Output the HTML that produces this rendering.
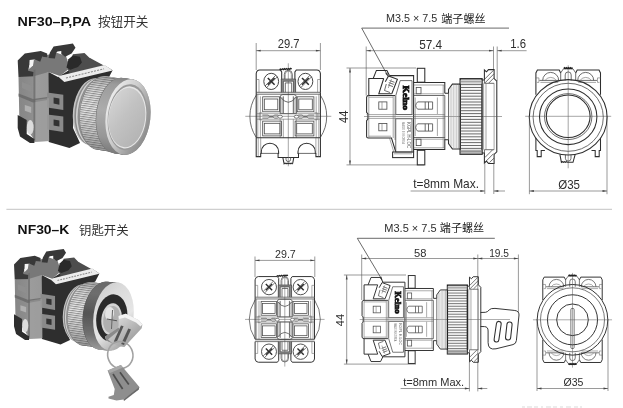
<!DOCTYPE html>
<html lang="zh"><head><meta charset="utf-8"><title>NF30</title>
<style>html,body{margin:0;padding:0;background:#fff;}body{width:623px;height:408px;overflow:hidden;}svg{display:block;will-change:transform;}</style>
</head><body>
<svg width="623" height="408" viewBox="0 0 623 408" font-family="'Liberation Sans', 'Noto Sans CJK SC', sans-serif">
<rect width="623" height="408" fill="#fff"/>
<defs>
<filter id="bl" x="-5%" y="-5%" width="110%" height="110%"><feGaussianBlur stdDeviation="0.7"/></filter>
<filter id="bl2" x="-5%" y="-5%" width="110%" height="110%"><feGaussianBlur stdDeviation="1.2"/></filter>
<linearGradient id="cyl" x1="0" y1="0" x2="0" y2="1">
<stop offset="0" stop-color="#9a9a9a"/><stop offset="0.12" stop-color="#d8d8d8"/><stop offset="0.35" stop-color="#f2f2f2"/><stop offset="0.6" stop-color="#cfcfcf"/><stop offset="0.85" stop-color="#9a9a9a"/><stop offset="1" stop-color="#6e6e6e"/></linearGradient>
<linearGradient id="knl" x1="0" y1="0" x2="0" y2="1">
<stop offset="0" stop-color="#a8a8a8"/><stop offset="0.15" stop-color="#d6d6d6"/><stop offset="0.45" stop-color="#e8e8e8"/><stop offset="0.75" stop-color="#cccccc"/><stop offset="1" stop-color="#999"/></linearGradient>
<linearGradient id="face" x1="0" y1="0" x2="1" y2="1">
<stop offset="0" stop-color="#d8d8d8"/><stop offset="0.45" stop-color="#c2c2c2"/><stop offset="1" stop-color="#b0b0b0"/></linearGradient>
<linearGradient id="rim" x1="0" y1="0.15" x2="1" y2="0.7">
<stop offset="0" stop-color="#f2f2f2"/><stop offset="0.45" stop-color="#cdcdcd"/><stop offset="0.8" stop-color="#9c9c9c"/><stop offset="1" stop-color="#8c8c8c"/></linearGradient>
<linearGradient id="grayblk" x1="0" y1="0" x2="1" y2="0">
<stop offset="0" stop-color="#868686"/><stop offset="0.45" stop-color="#8e8e8e"/><stop offset="0.55" stop-color="#9c9c9c"/><stop offset="1" stop-color="#989898"/></linearGradient>
<linearGradient id="keyg" x1="0" y1="0" x2="1" y2="1">
<stop offset="0" stop-color="#efefef"/><stop offset="0.5" stop-color="#bdbdbd"/><stop offset="1" stop-color="#8a8a8a"/></linearGradient>
<linearGradient id="cylside" x1="0" y1="0" x2="0" y2="1">
<stop offset="0" stop-color="#858585"/><stop offset="0.1" stop-color="#9c9c9c"/><stop offset="0.45" stop-color="#acacac"/><stop offset="0.8" stop-color="#969696"/><stop offset="1" stop-color="#7a7a7a"/></linearGradient>
<linearGradient id="cylside2" x1="0" y1="0" x2="0" y2="1">
<stop offset="0" stop-color="#6a6a6a"/><stop offset="0.2" stop-color="#6e6e6e"/><stop offset="0.5" stop-color="#545454"/><stop offset="0.8" stop-color="#707070"/><stop offset="1" stop-color="#9a9a9a"/></linearGradient>
<linearGradient id="rim2" x1="0" y1="0" x2="0.6" y2="1">
<stop offset="0" stop-color="#c8c8c8"/><stop offset="0.3" stop-color="#dadada"/><stop offset="0.7" stop-color="#e6e6e6"/><stop offset="1" stop-color="#b0b0b0"/></linearGradient>
<pattern id="knp" width="6" height="2.2" patternUnits="userSpaceOnUse" patternTransform="rotate(8)"><rect width="6" height="1" fill="#4a4a4a" opacity="0.55"/></pattern>
</defs>
<g filter="url(#bl)">
<polygon points="19.0,77.0 28.0,70.0 33.0,60.0 47.0,55.0 56.0,52.5 66.0,56.0 70.0,68.0 60.0,76.0 48.5,72.0 40.0,80.0 25.0,82.0" fill="#787878"/>
<polygon points="48.5,72.0 58.0,77.0 70.0,69.5 84.0,66.0 90.0,60.0 112.6,70.2 108.0,79.0 92.0,86.0 80.0,98.0 74.0,112.0 73.0,128.0 80.0,143.0 69.4,148.0 48.8,142.0 40.0,100.0" fill="#2e2e2e"/>
<polygon points="68.0,69.0 73.0,56.0 90.0,58.0 112.6,70.2 104.5,65.2 70.0,73.5" fill="#4c4c4c"/>
<polygon points="17.7,60.5 24.8,53.5 40.8,50.9 47.2,53.5 47.2,57.3 42.1,56.7 40.2,61.8 34.4,59.3 29.3,65.7 28.0,70.8 33.7,72.1 33.1,76.5 18.5,77.0" fill="#383838"/>
<polygon points="49.8,52.8 53.6,46.4 72.9,43.6 75.5,47.7 71.6,53.5 65.2,56.7 61.3,54.1 61.3,51.0 57.5,51.5 56.2,52.8 54.9,58.6 48.5,58.0" fill="#383838"/>
<polygon points="72.9,54.3 84.5,52.9 91.7,60.1 112.6,70.2 104.5,65.4 70.0,73.5 68.0,69.0" fill="#4e4e4e"/>
<polygon points="66.5,67.6 68.4,59.3 72.9,55.4 80.0,56.7 81.9,62.5 78.0,67.0 70.3,69.8" fill="#2a2a2a"/>
<polygon points="29.6,60.0 34.0,59.6 33.0,65.5 29.2,69.0" fill="#f4f4f4"/>
<polygon points="18.5,77.0 33.0,76.5 48.5,72.0 49.2,141.0 34.4,142.0 33.4,138.6 19.3,118.0" fill="url(#grayblk)"/>
<polygon points="18.5,93.5 33.0,99.0 47.5,97.0 47.5,100.0 33.0,102.5 18.5,96.5" fill="#646464" opacity="0.75"/>
<polygon points="33.4,70.0 35.4,69.4 35.4,141.0 33.4,139.0" fill="#6a6a6a" opacity="0.75"/>
<polygon points="24.8,105.0 31.2,107.0 31.2,113.0 24.8,110.8" fill="#b0b0b0"/>
<polygon points="22.0,82.0 31.0,85.5 31.0,92.0 22.0,88.0" fill="#8f8f8f"/>
<polygon points="17.7,115.0 26.7,120.0 26.7,134.0 34.4,139.0 34.4,143.0 30.0,143.0 20.0,136.5 17.7,128.0" fill="#2e2e2e"/>
<ellipse cx="30.2" cy="127.3" rx="3.4" ry="7.2" fill="#dcdcdc"/>
<polygon points="47.2,92.6 63.3,94.8 63.3,110.1 47.2,107.6" fill="#8a8a8a"/>
<polygon points="53.6,97.6 59.4,98.6 59.4,104.8 53.6,103.6" fill="#303030"/>
<polygon points="47.2,114.4 63.3,116.6 63.3,131.9 47.2,129.4" fill="#8a8a8a"/>
<polygon points="53.6,119.4 59.4,120.4 59.4,126.6 53.6,125.4" fill="#303030"/>
<polygon points="35.4,100.0 49.0,98.0 49.0,141.0 35.4,141.5" fill="#a0a0a0" opacity="0.55"/>
<polygon points="57.8,76.3 104.7,65.0 112.6,70.6 64.3,82.0" fill="#ececec"/>
<line x1="66" y1="78" x2="104" y2="68.8" stroke="#8a8a8a" stroke-width="1.2" stroke-dasharray="2 1.2"/>
<ellipse cx="92.7" cy="111.6" rx="19.7" ry="33.5" fill="#c4c4c4" transform="rotate(6.5 92.7 111.6)" />
<ellipse cx="94.3" cy="111.8" rx="19.7" ry="33.75" fill="#8a8a8a" transform="rotate(6.5 94.3 111.8)" />
<ellipse cx="95.9" cy="112.0" rx="19.7" ry="34.0" fill="#d2d2d2" transform="rotate(6.5 95.9 112.0)" />
<ellipse cx="97.5" cy="112.2" rx="19.7" ry="34.25" fill="#8e8e8e" transform="rotate(6.5 97.5 112.2)" />
<ellipse cx="99.1" cy="112.4" rx="19.7" ry="34.5" fill="#cdcdcd" transform="rotate(6.5 99.1 112.4)" />
<ellipse cx="101.3" cy="112.9" rx="21.8" ry="37" fill="#6f6f6f" transform="rotate(6.5 101.3 112.9)" />
<ellipse cx="101.9" cy="113.0" rx="21.8" ry="37" fill="url(#knl)" transform="rotate(6.5 101.9 113.0)" />
<ellipse cx="102.89" cy="113.16" rx="21.8" ry="37" fill="url(#knl)" transform="rotate(6.5 102.89 113.16)" />
<ellipse cx="103.89" cy="113.31" rx="21.8" ry="37" fill="url(#knl)" transform="rotate(6.5 103.89 113.31)" />
<ellipse cx="104.88" cy="113.47" rx="21.8" ry="37" fill="url(#knl)" transform="rotate(6.5 104.88 113.47)" />
<ellipse cx="105.88" cy="113.62" rx="21.8" ry="37" fill="url(#knl)" transform="rotate(6.5 105.88 113.62)" />
<ellipse cx="106.87" cy="113.78" rx="21.8" ry="37" fill="url(#knl)" transform="rotate(6.5 106.87 113.78)" />
<ellipse cx="107.86" cy="113.94" rx="21.8" ry="37" fill="url(#knl)" transform="rotate(6.5 107.86 113.94)" />
<ellipse cx="108.86" cy="114.09" rx="21.8" ry="37" fill="url(#knl)" transform="rotate(6.5 108.86 114.09)" />
<ellipse cx="109.85" cy="114.25" rx="21.8" ry="37" fill="url(#knl)" transform="rotate(6.5 109.85 114.25)" />
<ellipse cx="110.84" cy="114.41" rx="21.8" ry="37" fill="url(#knl)" transform="rotate(6.5 110.84 114.41)" />
<ellipse cx="111.84" cy="114.56" rx="21.8" ry="37" fill="url(#knl)" transform="rotate(6.5 111.84 114.56)" />
<ellipse cx="112.83" cy="114.72" rx="21.8" ry="37" fill="url(#knl)" transform="rotate(6.5 112.83 114.72)" />
<ellipse cx="113.83" cy="114.88" rx="21.8" ry="37" fill="url(#knl)" transform="rotate(6.5 113.83 114.88)" />
<ellipse cx="114.82" cy="115.03" rx="21.8" ry="37" fill="url(#knl)" transform="rotate(6.5 114.82 115.03)" />
<ellipse cx="115.81" cy="115.19" rx="21.8" ry="37" fill="url(#knl)" transform="rotate(6.5 115.81 115.19)" />
<ellipse cx="116.81" cy="115.34" rx="21.8" ry="37" fill="url(#knl)" transform="rotate(6.5 116.81 115.34)" />
<ellipse cx="117.8" cy="115.5" rx="21.8" ry="37" fill="url(#knl)" transform="rotate(6.5 117.8 115.5)" />
<clipPath id="kc1">
<ellipse cx="101.9" cy="113.0" rx="21.8" ry="37" fill="#000" transform="rotate(6.5 101.9 113.0)" />
<ellipse cx="102.89" cy="113.16" rx="21.8" ry="37" fill="#000" transform="rotate(6.5 102.89 113.16)" />
<ellipse cx="103.89" cy="113.31" rx="21.8" ry="37" fill="#000" transform="rotate(6.5 103.89 113.31)" />
<ellipse cx="104.88" cy="113.47" rx="21.8" ry="37" fill="#000" transform="rotate(6.5 104.88 113.47)" />
<ellipse cx="105.88" cy="113.62" rx="21.8" ry="37" fill="#000" transform="rotate(6.5 105.88 113.62)" />
<ellipse cx="106.87" cy="113.78" rx="21.8" ry="37" fill="#000" transform="rotate(6.5 106.87 113.78)" />
<ellipse cx="107.86" cy="113.94" rx="21.8" ry="37" fill="#000" transform="rotate(6.5 107.86 113.94)" />
<ellipse cx="108.86" cy="114.09" rx="21.8" ry="37" fill="#000" transform="rotate(6.5 108.86 114.09)" />
<ellipse cx="109.85" cy="114.25" rx="21.8" ry="37" fill="#000" transform="rotate(6.5 109.85 114.25)" />
<ellipse cx="110.84" cy="114.41" rx="21.8" ry="37" fill="#000" transform="rotate(6.5 110.84 114.41)" />
<ellipse cx="111.84" cy="114.56" rx="21.8" ry="37" fill="#000" transform="rotate(6.5 111.84 114.56)" />
<ellipse cx="112.83" cy="114.72" rx="21.8" ry="37" fill="#000" transform="rotate(6.5 112.83 114.72)" />
<ellipse cx="113.83" cy="114.88" rx="21.8" ry="37" fill="#000" transform="rotate(6.5 113.83 114.88)" />
<ellipse cx="114.82" cy="115.03" rx="21.8" ry="37" fill="#000" transform="rotate(6.5 114.82 115.03)" />
<ellipse cx="115.81" cy="115.19" rx="21.8" ry="37" fill="#000" transform="rotate(6.5 115.81 115.19)" />
<ellipse cx="116.81" cy="115.34" rx="21.8" ry="37" fill="#000" transform="rotate(6.5 116.81 115.34)" />
<ellipse cx="117.8" cy="115.5" rx="21.8" ry="37" fill="#000" transform="rotate(6.5 117.8 115.5)" />
</clipPath>
<rect x="70" y="70" width="80" height="90" fill="url(#knp)" clip-path="url(#kc1)"/>
<ellipse cx="118.2" cy="115.6" rx="22.3" ry="37.9" fill="#707070" transform="rotate(6.5 118.2 115.6)" />
<ellipse cx="118.8" cy="115.7" rx="22.4" ry="38" fill="url(#cylside)" transform="rotate(6.5 118.8 115.7)" />
<ellipse cx="119.72" cy="115.83" rx="22.4" ry="38" fill="url(#cylside)" transform="rotate(6.5 119.72 115.83)" />
<ellipse cx="120.64" cy="115.96" rx="22.4" ry="38" fill="url(#cylside)" transform="rotate(6.5 120.64 115.96)" />
<ellipse cx="121.56" cy="116.09" rx="22.4" ry="38" fill="url(#cylside)" transform="rotate(6.5 121.56 116.09)" />
<ellipse cx="122.48" cy="116.22" rx="22.4" ry="38" fill="url(#cylside)" transform="rotate(6.5 122.48 116.22)" />
<ellipse cx="123.4" cy="116.35" rx="22.4" ry="38" fill="url(#cylside)" transform="rotate(6.5 123.4 116.35)" />
<ellipse cx="124.32" cy="116.48" rx="22.4" ry="38" fill="url(#cylside)" transform="rotate(6.5 124.32 116.48)" />
<ellipse cx="125.24" cy="116.61" rx="22.4" ry="38" fill="url(#cylside)" transform="rotate(6.5 125.24 116.61)" />
<ellipse cx="126.16" cy="116.74" rx="22.4" ry="38" fill="url(#cylside)" transform="rotate(6.5 126.16 116.74)" />
<ellipse cx="127.08" cy="116.87" rx="22.4" ry="38" fill="url(#cylside)" transform="rotate(6.5 127.08 116.87)" />
<ellipse cx="128.0" cy="117.0" rx="22.4" ry="38" fill="url(#cylside)" transform="rotate(6.5 128.0 117.0)" />
<ellipse cx="128" cy="117" rx="22.4" ry="38" fill="url(#rim)" transform="rotate(6.5 128 117)" />
<ellipse cx="127.6" cy="117.2" rx="19.8" ry="33.2" fill="#9a9a9a" transform="rotate(6.5 127.6 117.2)" />
<ellipse cx="127.3" cy="117.4" rx="18.9" ry="31.2" fill="#e6e6e6" transform="rotate(6.5 127.3 117.4)" />
<ellipse cx="127" cy="117.5" rx="18.2" ry="29.8" fill="url(#face)" transform="rotate(6.5 127 117.5)" />
</g>
<g filter="url(#bl)">
<g transform="translate(14 264.5) scale(0.9 0.915) translate(-17.7 -60.5)">
<polygon points="19.0,77.0 28.0,70.0 33.0,60.0 47.0,55.0 56.0,52.5 66.0,56.0 70.0,68.0 60.0,76.0 48.5,72.0 40.0,80.0 25.0,82.0" fill="#787878"/>
<polygon points="48.5,72.0 58.0,77.0 70.0,69.5 84.0,66.0 90.0,60.0 112.6,70.2 108.0,79.0 92.0,86.0 80.0,98.0 74.0,112.0 73.0,128.0 80.0,143.0 69.4,148.0 48.8,142.0 40.0,100.0" fill="#2e2e2e"/>
<polygon points="68.0,69.0 73.0,56.0 90.0,58.0 112.6,70.2 104.5,65.2 70.0,73.5" fill="#4c4c4c"/>
<polygon points="17.7,60.5 24.8,53.5 40.8,50.9 47.2,53.5 47.2,57.3 42.1,56.7 40.2,61.8 34.4,59.3 29.3,65.7 28.0,70.8 33.7,72.1 33.1,76.5 18.5,77.0" fill="#383838"/>
<polygon points="49.8,52.8 53.6,46.4 72.9,43.6 75.5,47.7 71.6,53.5 65.2,56.7 61.3,54.1 61.3,51.0 57.5,51.5 56.2,52.8 54.9,58.6 48.5,58.0" fill="#383838"/>
<polygon points="72.9,54.3 84.5,52.9 91.7,60.1 112.6,70.2 104.5,65.4 70.0,73.5 68.0,69.0" fill="#4e4e4e"/>
<polygon points="66.5,67.6 68.4,59.3 72.9,55.4 80.0,56.7 81.9,62.5 78.0,67.0 70.3,69.8" fill="#2a2a2a"/>
<polygon points="29.6,60.0 34.0,59.6 33.0,65.5 29.2,69.0" fill="#f4f4f4"/>
<polygon points="18.5,77.0 33.0,76.5 48.5,72.0 49.2,141.0 34.4,142.0 33.4,138.6 19.3,118.0" fill="url(#grayblk)"/>
<polygon points="18.5,93.5 33.0,99.0 47.5,97.0 47.5,100.0 33.0,102.5 18.5,96.5" fill="#646464" opacity="0.75"/>
<polygon points="33.4,70.0 35.4,69.4 35.4,141.0 33.4,139.0" fill="#6a6a6a" opacity="0.75"/>
<polygon points="24.8,105.0 31.2,107.0 31.2,113.0 24.8,110.8" fill="#b0b0b0"/>
<polygon points="22.0,82.0 31.0,85.5 31.0,92.0 22.0,88.0" fill="#8f8f8f"/>
<polygon points="17.7,115.0 26.7,120.0 26.7,134.0 34.4,139.0 34.4,143.0 30.0,143.0 20.0,136.5 17.7,128.0" fill="#2e2e2e"/>
<ellipse cx="30.2" cy="127.3" rx="3.4" ry="7.2" fill="#dcdcdc"/>
<polygon points="47.2,92.6 63.3,94.8 63.3,110.1 47.2,107.6" fill="#8a8a8a"/>
<polygon points="53.6,97.6 59.4,98.6 59.4,104.8 53.6,103.6" fill="#303030"/>
<polygon points="47.2,114.4 63.3,116.6 63.3,131.9 47.2,129.4" fill="#8a8a8a"/>
<polygon points="53.6,119.4 59.4,120.4 59.4,126.6 53.6,125.4" fill="#303030"/>
<polygon points="35.4,100.0 49.0,98.0 49.0,141.0 35.4,141.5" fill="#a0a0a0" opacity="0.55"/>
<polygon points="57.8,76.3 104.7,65.0 112.6,70.6 64.3,82.0" fill="#ececec"/>
<line x1="66" y1="78" x2="104" y2="68.8" stroke="#8a8a8a" stroke-width="1.2" stroke-dasharray="2 1.2"/>
</g>
<ellipse cx="80.5" cy="313.3" rx="17.5" ry="29.0" fill="#c4c4c4" transform="rotate(7.5 80.5 313.3)" />
<ellipse cx="81.6" cy="313.45" rx="17.5" ry="29.25" fill="#8a8a8a" transform="rotate(7.5 81.6 313.45)" />
<ellipse cx="82.7" cy="313.6" rx="17.5" ry="29.5" fill="#d2d2d2" transform="rotate(7.5 82.7 313.6)" />
<ellipse cx="83.8" cy="313.75" rx="17.5" ry="29.75" fill="#8e8e8e" transform="rotate(7.5 83.8 313.75)" />
<ellipse cx="84.9" cy="313.9" rx="17.5" ry="30.0" fill="#cdcdcd" transform="rotate(7.5 84.9 313.9)" />
<ellipse cx="87" cy="313.9" rx="19.5" ry="32" fill="#6f6f6f" transform="rotate(7.5 87 313.9)" />
<ellipse cx="87.5" cy="314.0" rx="19.5" ry="32" fill="url(#knl)" transform="rotate(7.5 87.5 314.0)" />
<ellipse cx="88.54" cy="314.11" rx="19.5" ry="32" fill="url(#knl)" transform="rotate(7.5 88.54 314.11)" />
<ellipse cx="89.57" cy="314.21" rx="19.5" ry="32" fill="url(#knl)" transform="rotate(7.5 89.57 314.21)" />
<ellipse cx="90.61" cy="314.32" rx="19.5" ry="32" fill="url(#knl)" transform="rotate(7.5 90.61 314.32)" />
<ellipse cx="91.64" cy="314.43" rx="19.5" ry="32" fill="url(#knl)" transform="rotate(7.5 91.64 314.43)" />
<ellipse cx="92.68" cy="314.54" rx="19.5" ry="32" fill="url(#knl)" transform="rotate(7.5 92.68 314.54)" />
<ellipse cx="93.71" cy="314.64" rx="19.5" ry="32" fill="url(#knl)" transform="rotate(7.5 93.71 314.64)" />
<ellipse cx="94.75" cy="314.75" rx="19.5" ry="32" fill="url(#knl)" transform="rotate(7.5 94.75 314.75)" />
<ellipse cx="95.79" cy="314.86" rx="19.5" ry="32" fill="url(#knl)" transform="rotate(7.5 95.79 314.86)" />
<ellipse cx="96.82" cy="314.96" rx="19.5" ry="32" fill="url(#knl)" transform="rotate(7.5 96.82 314.96)" />
<ellipse cx="97.86" cy="315.07" rx="19.5" ry="32" fill="url(#knl)" transform="rotate(7.5 97.86 315.07)" />
<ellipse cx="98.89" cy="315.18" rx="19.5" ry="32" fill="url(#knl)" transform="rotate(7.5 98.89 315.18)" />
<ellipse cx="99.93" cy="315.29" rx="19.5" ry="32" fill="url(#knl)" transform="rotate(7.5 99.93 315.29)" />
<ellipse cx="100.96" cy="315.39" rx="19.5" ry="32" fill="url(#knl)" transform="rotate(7.5 100.96 315.39)" />
<ellipse cx="102.0" cy="315.5" rx="19.5" ry="32" fill="url(#knl)" transform="rotate(7.5 102.0 315.5)" />
<clipPath id="kc2">
<ellipse cx="87.5" cy="314.0" rx="19.5" ry="32" fill="#000" transform="rotate(7.5 87.5 314.0)" />
<ellipse cx="88.54" cy="314.11" rx="19.5" ry="32" fill="#000" transform="rotate(7.5 88.54 314.11)" />
<ellipse cx="89.57" cy="314.21" rx="19.5" ry="32" fill="#000" transform="rotate(7.5 89.57 314.21)" />
<ellipse cx="90.61" cy="314.32" rx="19.5" ry="32" fill="#000" transform="rotate(7.5 90.61 314.32)" />
<ellipse cx="91.64" cy="314.43" rx="19.5" ry="32" fill="#000" transform="rotate(7.5 91.64 314.43)" />
<ellipse cx="92.68" cy="314.54" rx="19.5" ry="32" fill="#000" transform="rotate(7.5 92.68 314.54)" />
<ellipse cx="93.71" cy="314.64" rx="19.5" ry="32" fill="#000" transform="rotate(7.5 93.71 314.64)" />
<ellipse cx="94.75" cy="314.75" rx="19.5" ry="32" fill="#000" transform="rotate(7.5 94.75 314.75)" />
<ellipse cx="95.79" cy="314.86" rx="19.5" ry="32" fill="#000" transform="rotate(7.5 95.79 314.86)" />
<ellipse cx="96.82" cy="314.96" rx="19.5" ry="32" fill="#000" transform="rotate(7.5 96.82 314.96)" />
<ellipse cx="97.86" cy="315.07" rx="19.5" ry="32" fill="#000" transform="rotate(7.5 97.86 315.07)" />
<ellipse cx="98.89" cy="315.18" rx="19.5" ry="32" fill="#000" transform="rotate(7.5 98.89 315.18)" />
<ellipse cx="99.93" cy="315.29" rx="19.5" ry="32" fill="#000" transform="rotate(7.5 99.93 315.29)" />
<ellipse cx="100.96" cy="315.39" rx="19.5" ry="32" fill="#000" transform="rotate(7.5 100.96 315.39)" />
<ellipse cx="102.0" cy="315.5" rx="19.5" ry="32" fill="#000" transform="rotate(7.5 102.0 315.5)" />
</clipPath>
<rect x="60" y="275" width="70" height="80" fill="url(#knp)" clip-path="url(#kc2)"/>
<ellipse cx="102.6" cy="315.6" rx="19.9" ry="34" fill="#565656" transform="rotate(7.5 102.6 315.6)" />
<ellipse cx="103.2" cy="315.7" rx="20" ry="34.3" fill="url(#cylside2)" transform="rotate(7.5 103.2 315.7)" />
<ellipse cx="104.24" cy="315.8" rx="20" ry="34.3" fill="url(#cylside2)" transform="rotate(7.5 104.24 315.8)" />
<ellipse cx="105.28" cy="315.9" rx="20" ry="34.3" fill="url(#cylside2)" transform="rotate(7.5 105.28 315.9)" />
<ellipse cx="106.31" cy="316.0" rx="20" ry="34.3" fill="url(#cylside2)" transform="rotate(7.5 106.31 316.0)" />
<ellipse cx="107.35" cy="316.1" rx="20" ry="34.3" fill="url(#cylside2)" transform="rotate(7.5 107.35 316.1)" />
<ellipse cx="108.39" cy="316.2" rx="20" ry="34.3" fill="url(#cylside2)" transform="rotate(7.5 108.39 316.2)" />
<ellipse cx="109.42" cy="316.3" rx="20" ry="34.3" fill="url(#cylside2)" transform="rotate(7.5 109.42 316.3)" />
<ellipse cx="110.46" cy="316.4" rx="20" ry="34.3" fill="url(#cylside2)" transform="rotate(7.5 110.46 316.4)" />
<ellipse cx="111.5" cy="316.5" rx="20" ry="34.3" fill="url(#cylside2)" transform="rotate(7.5 111.5 316.5)" />
<ellipse cx="113.5" cy="316.5" rx="20" ry="34.5" fill="url(#rim2)" transform="rotate(7.5 113.5 316.5)" />
<ellipse cx="111.8" cy="317.8" rx="15.5" ry="23.6" fill="#2a2a2a" transform="rotate(7.5 111.8 317.8)" />
<ellipse cx="111.6" cy="319.2" rx="10.2" ry="16" fill="#d4d4d4" transform="rotate(7.5 111.6 319.2)" />
<ellipse cx="111.8" cy="319.5" rx="8.6" ry="13.6" fill="#b0b0b0" transform="rotate(7.5 111.8 319.5)" />
<ellipse cx="109.6" cy="313.5" rx="4.5" ry="6.5" fill="#e4e4e4" transform="rotate(7.5 109.6 313.5)" />
<line x1="107" y1="319" x2="117" y2="320.8" stroke="#555" stroke-width="1"/>
<line x1="112.5" y1="310" x2="111.5" y2="329" stroke="#666" stroke-width="1"/>
<polygon points="118.6,315.9 125.8,313.7 138.8,320.2 142.4,324.6 141.7,328.2 124.4,347.0 118.6,346.2 112.8,343.4 106.3,340.5 104.9,336.8 118.6,327.5" fill="url(#keyg)"/>
<polygon points="121.0,325.5 123.6,326.3 116.5,342.5 113.8,341.5" fill="#555"/>
<polygon points="128.3,328.5 131.0,329.5 124.0,345.0 121.2,344.0" fill="#555"/>
<polygon points="118.6,315.9 125.8,313.7 138.8,320.2 142.4,324.6 140.5,326.5 136.0,322.5 125.0,317.5 119.0,319.0" fill="#f4f4f4"/>
<polygon points="104.9,336.8 118.6,327.5 119.5,330.0 108.0,339.5 112.8,343.4 106.3,340.5" fill="#8a8a8a"/>
<ellipse cx="120.3" cy="355" rx="12.6" ry="13.6" fill="none" stroke="#a2a2a2" stroke-width="1.6" transform="rotate(-15 120.3 355)"/>
<polygon points="107.6,370.4 120.9,365.1 139.4,387.1 138.5,389.8 123.5,399.5 116.5,400.4 108.5,398.6 108.5,396.8 113.8,395.1 114.7,388.9 112.0,381.9" fill="#8e8e8e"/>
<polygon points="107.6,370.4 120.9,365.1 123.0,367.5 110.0,373.0" fill="#a8a8a8"/>
<line x1="113" y1="374" x2="122.6" y2="389" stroke="#4e4e4e" stroke-width="1.7"/>
<line x1="120" y1="372.2" x2="128.8" y2="384.5" stroke="#4e4e4e" stroke-width="1.7"/>
<polygon points="123.5,399.5 139.4,387.1 138.5,389.8 124.0,401.0" fill="#6a6a6a"/>
</g>
<line x1="6.4" y1="209.3" x2="612" y2="209.3" stroke="#c4c4c4" stroke-width="1"/>
<text x="17.6" y="26" font-size="12.3" font-weight="bold" fill="#111" textLength="73.5" lengthAdjust="spacingAndGlyphs">NF30–P,PA</text>
<text x="98" y="26.3" font-size="12.6" fill="#333">按钮开关</text>
<text x="17.6" y="234.2" font-size="12.3" font-weight="bold" fill="#111" textLength="51.8" lengthAdjust="spacingAndGlyphs">NF30–K</text>
<text x="79" y="234.6" font-size="12.4" fill="#333">钥匙开关</text>
<line x1="256.2" y1="43" x2="256.2" y2="70" stroke="#555" stroke-width="0.6" fill="none"/>
<line x1="320.4" y1="43" x2="320.4" y2="70" stroke="#555" stroke-width="0.6" fill="none"/>
<line x1="256.2" y1="50.7" x2="320.4" y2="50.7" stroke="#555" stroke-width="0.6" fill="none"/>
<path d="M256.2 50.7 L260.7 49.8 L260.7 51.6 Z" fill="#444"/>
<path d="M320.4 50.7 L315.9 51.6 L315.9 49.8 Z" fill="#444"/>
<text x="277.8" y="48.4" font-size="12.3" fill="#2e2e2e" textLength="21.8" lengthAdjust="spacingAndGlyphs" >29.7</text>
<g transform="translate(288.3 116.3) scale(1.0)">
<line x1="-43" y1="0" x2="43" y2="0" stroke="#6a6a6a" stroke-width="0.6" fill="none"/>
<line x1="0" y1="-53" x2="0" y2="50" stroke="#6a6a6a" stroke-width="0.6" fill="none"/>
<g transform="scale(1 1)">
<path d="M-32.1 -24 L-32.1 -42.8 Q-31.6 -46.3 -28.6 -46.3 L-8 -46.3 L-6.6 -44.3 L-6.6 -24" stroke="#2e2e2e" stroke-width="1.05" fill="none"/>
<path d="M32.1 -24 L32.1 -42.8 Q31.6 -46.3 28.6 -46.3 L8 -46.3 L6.6 -44.3 L6.6 -24" stroke="#2e2e2e" stroke-width="1.05" fill="none"/>
<line x1="-32.1" y1="-24" x2="32.1" y2="-24" stroke="#484848" stroke-width="0.8" fill="none"/>
<line x1="-32.1" y1="-22.1" x2="32.1" y2="-22.1" stroke="#484848" stroke-width="0.8" fill="none"/>
<path d="M-32.1 -36.8 L-29.3 -36.8 L-29.3 -24" stroke="#6a6a6a" stroke-width="0.6" fill="none"/>
<path d="M32.1 -36.8 L29.3 -36.8 L29.3 -24" stroke="#6a6a6a" stroke-width="0.6" fill="none"/>
<path d="M-6.0 -24 L-6.0 -36.1 L6.2 -36.1 L6.2 -24" stroke="#8c8c8c" stroke-width="2.1" fill="none"/>
<path d="M-7.05 -24 L-7.05 -37.2 L7.3 -37.2 L7.3 -24" stroke="#484848" stroke-width="0.8" fill="none"/>
<path d="M-4.95 -24 L-4.95 -35.1 L5.15 -35.1 L5.15 -24" stroke="#484848" stroke-width="0.8" fill="none"/>
<path d="M-3 -24 L-3 -33.4 L3.4 -33.4 L3.4 -24" stroke="#484848" stroke-width="0.8" fill="none"/>
<path d="M-4 -37.2 L-4 -42 A4 4 0 0 1 4 -42 L4 -37.2" stroke="#484848" stroke-width="0.8" fill="none"/>
<path d="M-3 -37.2 L-3 -42 A3 3.2 0 0 1 3 -42 L3 -37.2" stroke="#6a6a6a" stroke-width="0.6" fill="none"/>
<path d="M-8.8 -46.6 l1.2 -0.6 l1 0.6 l1 -0.9 l1 0.8 l1 -0.9 l1 0.8 l1 -0.9 l1 0.8 l1 -0.9 l1 0.8 l1 -0.9 l1 0.6" stroke="#222" stroke-width="1.3" fill="none"/>
</g>
<ellipse cx="-17.1" cy="-34.9" rx="7.4" ry="8.1" stroke="#444" stroke-width="1" fill="none"/>
<line x1="-20.5" y1="-38.3" x2="-13.7" y2="-31.5" stroke="#2a2a2a" stroke-width="1.5"/>
<line x1="-20.5" y1="-31.5" x2="-13.7" y2="-38.3" stroke="#2a2a2a" stroke-width="1.5"/>
<line x1="-23.3" y1="-30.3" x2="-12.5" y2="-41.1" stroke="#484848" stroke-width="0.8" fill="none"/>
<line x1="-21.7" y1="-28.7" x2="-10.9" y2="-39.5" stroke="#484848" stroke-width="0.8" fill="none"/>
<ellipse cx="17.1" cy="-34.9" rx="7.4" ry="8.1" stroke="#444" stroke-width="1" fill="none"/>
<line x1="13.7" y1="-38.3" x2="20.5" y2="-31.5" stroke="#2a2a2a" stroke-width="1.5"/>
<line x1="13.7" y1="-31.5" x2="20.5" y2="-38.3" stroke="#2a2a2a" stroke-width="1.5"/>
<line x1="10.9" y1="-30.3" x2="21.7" y2="-41.1" stroke="#484848" stroke-width="0.8" fill="none"/>
<line x1="12.5" y1="-28.7" x2="23.3" y2="-39.5" stroke="#484848" stroke-width="0.8" fill="none"/>
<path d="M-32.1 -21.074866547620175 A38.4 38.4 0 0 0 -32.1 21.074866547620175" stroke="#484848" stroke-width="0.8" fill="none"/>
<path d="M32.1 -21.074866547620175 A38.4 38.4 0 0 1 32.1 21.074866547620175" stroke="#484848" stroke-width="0.8" fill="none"/>
<line x1="-32.1" y1="-24" x2="-32.1" y2="21.4" stroke="#2e2e2e" stroke-width="1.05" fill="none"/>
<line x1="32.1" y1="-24" x2="32.1" y2="21.4" stroke="#2e2e2e" stroke-width="1.05" fill="none"/>
<line x1="-30.5" y1="-22" x2="-30.5" y2="21.4" stroke="#6a6a6a" stroke-width="0.6" fill="none"/>
<line x1="30.5" y1="-22" x2="30.5" y2="21.4" stroke="#6a6a6a" stroke-width="0.6" fill="none"/>
<line x1="-27.9" y1="-20" x2="-27.9" y2="21.4" stroke="#6a6a6a" stroke-width="0.6" fill="none"/>
<line x1="27.9" y1="-20" x2="27.9" y2="21.4" stroke="#6a6a6a" stroke-width="0.6" fill="none"/>
<rect x="-25.6" y="-19.5" width="16.7" height="15" rx="0" stroke="#484848" stroke-width="0.8" fill="none"/>
<rect x="-24" y="-17.3" width="13.5" height="10.8" rx="0" stroke="#484848" stroke-width="0.8" fill="none"/>
<rect x="-25.6" y="4.8" width="18.8" height="14.8" rx="0" stroke="#484848" stroke-width="0.8" fill="none"/>
<rect x="-24" y="7" width="15.6" height="10.6" rx="0" stroke="#484848" stroke-width="0.8" fill="none"/>
<rect x="8.9" y="-19.5" width="16.7" height="15" rx="0" stroke="#484848" stroke-width="0.8" fill="none"/>
<rect x="10.5" y="-17.3" width="13.5" height="10.8" rx="0" stroke="#484848" stroke-width="0.8" fill="none"/>
<rect x="6.8" y="4.8" width="18.8" height="14.8" rx="0" stroke="#484848" stroke-width="0.8" fill="none"/>
<rect x="8.4" y="7" width="15.6" height="10.6" rx="0" stroke="#484848" stroke-width="0.8" fill="none"/>
<rect x="-8.1" y="-19" width="3.1" height="16.3" fill="#cfcfcf"/>
<rect x="5" y="-19" width="3.1" height="16.3" fill="#cfcfcf"/>
<path d="M-8.1 -2.7 L-8.1 -19.3 Q-8.1 -21.7 -5.5 -21.7 L5.5 -21.7 Q8.1 -21.7 8.1 -19.3 L8.1 -2.7" stroke="#484848" stroke-width="0.8" fill="none"/>
<path d="M-5 -2.7 L-5 -20 M5 -2.7 L5 -20" stroke="#484848" stroke-width="0.8" fill="none"/>
<path d="M-8.1 -19.5 Q0 -8.5 8.1 -19.5" stroke="#484848" stroke-width="0.8" fill="none"/>
<line x1="-8.1" y1="-2.7" x2="8.1" y2="-2.7" stroke="#484848" stroke-width="0.8" fill="none"/>
<line x1="-8.1" y1="3" x2="-8.1" y2="21.4" stroke="#6a6a6a" stroke-width="0.6" fill="none"/>
<line x1="-5" y1="3" x2="-5" y2="21.4" stroke="#6a6a6a" stroke-width="0.6" fill="none"/>
<line x1="5" y1="3" x2="5" y2="21.4" stroke="#6a6a6a" stroke-width="0.6" fill="none"/>
<line x1="8.1" y1="3" x2="8.1" y2="21.4" stroke="#6a6a6a" stroke-width="0.6" fill="none"/>
<g transform="scale(-1 1)">
<path d="M10 -1.2 L14 -1.2 L15 -0.2 L19 -0.2 L20 -1.2 L26 -1.2 M10.5 1.8 L14 1.8 L15 0.8 L19 0.8 L20 1.8 L26 1.8" stroke="#484848" stroke-width="0.8" fill="none"/>
<ellipse cx="8.2" cy="0.4" rx="2.3" ry="1.5" stroke="#444" stroke-width="0.7" fill="#fff"/>
<path d="M26 -3.5 L29 -3.5 L29 3.5 L26 3.5" stroke="#6a6a6a" stroke-width="0.6" fill="none"/>
</g>
<g transform="scale(1 1)">
<path d="M10 -1.2 L14 -1.2 L15 -0.2 L19 -0.2 L20 -1.2 L26 -1.2 M10.5 1.8 L14 1.8 L15 0.8 L19 0.8 L20 1.8 L26 1.8" stroke="#484848" stroke-width="0.8" fill="none"/>
<ellipse cx="8.2" cy="0.4" rx="2.3" ry="1.5" stroke="#444" stroke-width="0.7" fill="#fff"/>
<path d="M26 -3.5 L29 -3.5 L29 3.5 L26 3.5" stroke="#6a6a6a" stroke-width="0.6" fill="none"/>
</g>
<line x1="-32.1" y1="-2.6" x2="32.1" y2="-2.6" stroke="#6a6a6a" stroke-width="0.6" fill="none"/>
<line x1="-32.1" y1="2.9" x2="32.1" y2="2.9" stroke="#6a6a6a" stroke-width="0.6" fill="none"/>
<line x1="-32.1" y1="21.4" x2="32.1" y2="21.4" stroke="#2e2e2e" stroke-width="1.05" fill="none"/>
<g transform="scale(-1 1)">
<path d="M32.1 21.4 L32.1 40.3 L27.6 40.3 L27.6 37.1 L27 37.1 L27 35.5 A8.65 8.65 0 0 0 9.7 35.5 L9.7 37.1 L10.2 37.1 L10.2 41.1 L0 41.1" stroke="#2e2e2e" stroke-width="1.05" fill="none"/>
<line x1="30.1" y1="21.4" x2="30.1" y2="40.3" stroke="#6a6a6a" stroke-width="0.6" fill="none"/>
<line x1="9.7" y1="37.1" x2="27" y2="37.1" stroke="#484848" stroke-width="0.8" fill="none"/>
<line x1="27.6" y1="21.4" x2="27.6" y2="37.1" stroke="#6a6a6a" stroke-width="0.6" fill="none"/>
</g>
<g transform="scale(1 1)">
<path d="M32.1 21.4 L32.1 40.3 L27.6 40.3 L27.6 37.1 L27 37.1 L27 35.5 A8.65 8.65 0 0 0 9.7 35.5 L9.7 37.1 L10.2 37.1 L10.2 41.1 L0 41.1" stroke="#2e2e2e" stroke-width="1.05" fill="none"/>
<line x1="30.1" y1="21.4" x2="30.1" y2="40.3" stroke="#6a6a6a" stroke-width="0.6" fill="none"/>
<line x1="9.7" y1="37.1" x2="27" y2="37.1" stroke="#484848" stroke-width="0.8" fill="none"/>
<line x1="27.6" y1="21.4" x2="27.6" y2="37.1" stroke="#6a6a6a" stroke-width="0.6" fill="none"/>
</g>
<path d="M-5.5 41.1 L-4.2 47.5 l1 -0.7 l1 0.7 l1 -0.7 l1 0.7 l1 -0.7 l1 0.7 l1 -0.7 l1 0.7 l0.6 -0.5 L5.5 41.1" stroke="#2e2e2e" stroke-width="1.05" fill="none"/>
<path d="M-2.3 41.1 L-2.3 43 A2.3 2.3 0 0 0 2.3 43 L2.3 41.1" stroke="#484848" stroke-width="0.8" fill="none"/>
</g>
<text x="386" y="22.2" font-size="11.2" fill="#2e2e2e" textLength="51.2" lengthAdjust="spacingAndGlyphs" >M3.5 × 7.5</text>
<text x="441.2" y="22.6" font-size="11.1" text-anchor="start" fill="#1a1a1a" >端子螺丝</text>
<path d="M509 28.1 L361.7 28.1 L387.2 74.8" stroke="#444" stroke-width="0.8" fill="none"/>
<path d="M388.6 77.3 L385.23 73.45 L387.15 72.39 Z" fill="#444"/>
<line x1="366.2" y1="46.5" x2="366.2" y2="95.5" stroke="#555" stroke-width="0.6" fill="none"/>
<line x1="493.5" y1="46.5" x2="493.5" y2="69" stroke="#555" stroke-width="0.6" fill="none"/>
<line x1="497.2" y1="46.5" x2="497.2" y2="81" stroke="#555" stroke-width="0.6" fill="none"/>
<line x1="366.2" y1="50.7" x2="493.5" y2="50.7" stroke="#555" stroke-width="0.6" fill="none"/>
<path d="M366.2 50.7 L370.7 49.8 L370.7 51.6 Z" fill="#444"/>
<path d="M493.5 50.7 L489 51.6 L489 49.8 Z" fill="#444"/>
<line x1="497.2" y1="50.7" x2="526.6" y2="50.7" stroke="#555" stroke-width="0.6" fill="none"/>
<path d="M497.2 50.7 L501.7 49.8 L501.7 51.6 Z" fill="#444"/>
<text x="419.2" y="48.5" font-size="12.3" fill="#2e2e2e" textLength="23" lengthAdjust="spacingAndGlyphs" >57.4</text>
<text x="510.2" y="48.4" font-size="12.3" fill="#2e2e2e" textLength="15.8" lengthAdjust="spacingAndGlyphs" >1.6</text>
<line x1="346.5" y1="68" x2="416" y2="68" stroke="#555" stroke-width="0.6" fill="none"/>
<line x1="346.5" y1="164.9" x2="424" y2="164.9" stroke="#555" stroke-width="0.6" fill="none"/>
<line x1="350" y1="68" x2="350" y2="164.9" stroke="#555" stroke-width="0.6" fill="none"/>
<path d="M350 68 L350.9 72.5 L349.1 72.5 Z" fill="#444"/>
<path d="M350 164.9 L349.1 160.4 L350.9 160.4 Z" fill="#444"/>
<text transform="translate(348.3 123) rotate(-90)" font-size="12.3" fill="#2e2e2e" textLength="12.4" lengthAdjust="spacingAndGlyphs">44</text>
<g transform="translate(366.2 116.5) scale(1.0)">
<line x1="-2.2" y1="0" x2="135.8" y2="0" stroke="#6a6a6a" stroke-width="0.6" fill="none"/>
<g transform="scale(1 1)">
<path d="M7 -38 L10.2 -46.1 L20.7 -46.1 L23.2 -40.9" stroke="#2e2e2e" stroke-width="1.05" fill="none"/>
<path d="M17.5 -38 L2.6 -38 L2.6 -21" stroke="#2e2e2e" stroke-width="1.05" fill="none"/>
<path d="M2.6 -21 L1.2 -20.7 L0.4 -19.3 L0.4 -4.1 L1.7 -2.7 L1.7 0" stroke="#2e2e2e" stroke-width="1.05" fill="none"/>
<line x1="2.6" y1="-21" x2="2.6" y2="0" stroke="#6a6a6a" stroke-width="0.6" fill="none"/>
<line x1="2.6" y1="-21" x2="28.8" y2="-21" stroke="#2e2e2e" stroke-width="1.05" fill="none"/>
<line x1="2.6" y1="-19.3" x2="26.8" y2="-19.3" stroke="#6a6a6a" stroke-width="0.6" fill="none"/>
<path d="M17.5 -38 L12.6 -22.7 L25.6 -22.7" stroke="#2e2e2e" stroke-width="1.05" fill="none"/>
<path d="M19.1 -34.8 L22.3 -40.5 L31.2 -37.2 L25.6 -22.7" stroke="#2e2e2e" stroke-width="1.05" fill="none"/>
<path d="M20.1 -32.5 L18.3 -26 L23.8 -24" stroke="#484848" stroke-width="0.8" fill="none"/>
<path d="M23.3 -36 L28.3 -34.2" stroke="#484848" stroke-width="0.8" fill="none"/>
<path d="M22.6 -33.9 L27.6 -32.1" stroke="#484848" stroke-width="0.8" fill="none"/>
<path d="M21.8 -31.7 L26.8 -29.9" stroke="#484848" stroke-width="0.8" fill="none"/>
<path d="M25.3 -37.5 L22.1 -28.5" stroke="#6a6a6a" stroke-width="0.6" fill="none"/>
<path d="M23.2 -40.9 L47.4 -40.9 L47.4 0" stroke="#2e2e2e" stroke-width="1.05" fill="none"/>
<path d="M34 -35.9 L45.8 -35.9 L45.8 -2 L29.6 -2 L29.6 -21 L34 -35.9 Z" stroke="#484848" stroke-width="0.8" fill="none"/>
<line x1="27" y1="-21" x2="27" y2="0" stroke="#6a6a6a" stroke-width="0.6" fill="none"/>
<line x1="28.8" y1="-21" x2="28.8" y2="0" stroke="#6a6a6a" stroke-width="0.6" fill="none"/>
<rect x="12.6" y="-14.6" width="8.1" height="7.3" rx="0" stroke="#484848" stroke-width="0.8" fill="none"/>
<line x1="15.8" y1="-14.6" x2="15.8" y2="-7.3" stroke="#6a6a6a" stroke-width="0.6" fill="none"/>
<rect x="51.1" y="-48.2" width="7.5" height="13.9" rx="0" stroke="#2e2e2e" stroke-width="1.05" fill="none"/>
<path d="M47.4 -34 L78.6 -34 L78.6 -23.2" stroke="#2e2e2e" stroke-width="1.05" fill="none"/>
<line x1="47.4" y1="-31.5" x2="78.6" y2="-31.5" stroke="#6a6a6a" stroke-width="0.6" fill="none"/>
<rect x="50" y="-29.1" width="4.8" height="6.4" rx="0" stroke="#484848" stroke-width="0.8" fill="none"/>
<line x1="47.4" y1="-22.7" x2="77.3" y2="-22.7" stroke="#6a6a6a" stroke-width="0.6" fill="none"/>
<line x1="47.4" y1="-21" x2="78.6" y2="-21" stroke="#484848" stroke-width="0.8" fill="none"/>
<line x1="77" y1="-31.5" x2="77" y2="0" stroke="#6a6a6a" stroke-width="0.6" fill="none"/>
<line x1="78.6" y1="-21" x2="78.6" y2="0" stroke="#484848" stroke-width="0.8" fill="none"/>
<line x1="49" y1="-19" x2="49" y2="0" stroke="#6a6a6a" stroke-width="0.6" fill="none"/>
<path d="M66.4 -14.6 L51.4 -14.6 Q47.6 -11 51.4 -7.3 L66.4 -7.3 Z" stroke="#484848" stroke-width="0.8" fill="none"/>
<line x1="59" y1="-14.6" x2="59" y2="-7.3" stroke="#484848" stroke-width="0.8" fill="none"/>
<line x1="62.3" y1="-14.6" x2="62.3" y2="-7.3" stroke="#484848" stroke-width="0.8" fill="none"/>
<line x1="71.2" y1="-19" x2="71.2" y2="-2.5" stroke="#6a6a6a" stroke-width="0.6" fill="none"/>
</g>
<path d="M1.7 0 L1.7 2.7 L0.4 4.1 L0.4 20.1 Q0.4 21.5 2 21.5 L25.3 21.5 L29.6 35.5" stroke="#2e2e2e" stroke-width="1.05" fill="none"/>
<line x1="2.6" y1="0" x2="2.6" y2="21.5" stroke="#6a6a6a" stroke-width="0.6" fill="none"/>
<line x1="2.6" y1="19.7" x2="24.8" y2="19.7" stroke="#6a6a6a" stroke-width="0.6" fill="none"/>
<path d="M23.3 21.5 L27.6 35.5" stroke="#6a6a6a" stroke-width="0.6" fill="none"/>
<rect x="26.4" y="35.5" width="21" height="5.6" rx="0" stroke="#2e2e2e" stroke-width="1.05" fill="none"/>
<line x1="27.8" y1="37.3" x2="45.8" y2="37.3" stroke="#6a6a6a" stroke-width="0.6" fill="none"/>
<rect x="12.6" y="7" width="8.1" height="7.3" rx="0" stroke="#484848" stroke-width="0.8" fill="none"/>
<line x1="15.8" y1="7" x2="15.8" y2="14.3" stroke="#6a6a6a" stroke-width="0.6" fill="none"/>
<line x1="27" y1="0" x2="27" y2="21.5" stroke="#6a6a6a" stroke-width="0.6" fill="none"/>
<line x1="28.8" y1="0" x2="28.8" y2="23.5" stroke="#6a6a6a" stroke-width="0.6" fill="none"/>
<rect x="29.6" y="2.3" width="16.2" height="33.2" rx="0" stroke="#484848" stroke-width="0.8" fill="none"/>
<line x1="47.4" y1="0" x2="47.4" y2="35.5" stroke="#2e2e2e" stroke-width="1.05" fill="none"/>
<text transform="translate(41 5.5) rotate(90)" font-size="4.6" fill="#666" textLength="26" lengthAdjust="spacingAndGlyphs">KGPL H-LOC</text>
<text transform="translate(35.6 5.5) rotate(90)" font-size="3.2" fill="#777" textLength="22" lengthAdjust="spacingAndGlyphs">MADE IN KOREA</text>
<path d="M47.4 33 L78.6 33 L78.6 22.5" stroke="#2e2e2e" stroke-width="1.05" fill="none"/>
<line x1="47.4" y1="31.3" x2="78.6" y2="31.3" stroke="#6a6a6a" stroke-width="0.6" fill="none"/>
<line x1="47.4" y1="21" x2="78.6" y2="21" stroke="#484848" stroke-width="0.8" fill="none"/>
<line x1="47.4" y1="22.7" x2="77.3" y2="22.7" stroke="#6a6a6a" stroke-width="0.6" fill="none"/>
<rect x="50" y="22.7" width="4.8" height="6.4" rx="0" stroke="#484848" stroke-width="0.8" fill="none"/>
<line x1="77" y1="0" x2="77" y2="31.5" stroke="#6a6a6a" stroke-width="0.6" fill="none"/>
<line x1="78.6" y1="0" x2="78.6" y2="22.5" stroke="#484848" stroke-width="0.8" fill="none"/>
<line x1="49" y1="0" x2="49" y2="19.5" stroke="#6a6a6a" stroke-width="0.6" fill="none"/>
<path d="M66.4 7.3 L51.4 7.3 Q47.6 10.9 51.4 14.6 L66.4 14.6 Z" stroke="#484848" stroke-width="0.8" fill="none"/>
<line x1="59" y1="7.3" x2="59" y2="14.6" stroke="#484848" stroke-width="0.8" fill="none"/>
<line x1="62.3" y1="7.3" x2="62.3" y2="14.6" stroke="#484848" stroke-width="0.8" fill="none"/>
<line x1="71.2" y1="2.5" x2="71.2" y2="19.5" stroke="#6a6a6a" stroke-width="0.6" fill="none"/>
<rect x="51.1" y="33.8" width="7.5" height="14.6" rx="0" stroke="#2e2e2e" stroke-width="1.05" fill="none"/>
<text transform="translate(36.8 -31) rotate(90)" font-family="'Liberation Serif', serif" font-weight="bold" font-size="8.4" fill="#111" stroke="#111" stroke-width="0.75" textLength="24.6" lengthAdjust="spacingAndGlyphs">Kelno</text>
<line x1="0.4" y1="-1.9" x2="78.6" y2="-1.9" stroke="#6a6a6a" stroke-width="0.6" fill="none"/>
<line x1="0.4" y1="1.9" x2="78.6" y2="1.9" stroke="#6a6a6a" stroke-width="0.6" fill="none"/>
<g transform="scale(1 1)">
<path d="M78.6 -23.2 L82.3 -23.2 L82.3 -27 L86.2 -32.4 L94 -32.4" stroke="#2e2e2e" stroke-width="1.05" fill="none"/>
<line x1="82.3" y1="-23.2" x2="82.3" y2="0" stroke="#484848" stroke-width="0.8" fill="none"/>
<line x1="84" y1="-29.5" x2="84" y2="0" stroke="#999" stroke-width="0.5"/>
<line x1="85.6" y1="-29.5" x2="85.6" y2="0" stroke="#999" stroke-width="0.5"/>
<line x1="87.2" y1="-32" x2="87.2" y2="0" stroke="#999" stroke-width="0.5"/>
<line x1="88.8" y1="-32" x2="88.8" y2="0" stroke="#999" stroke-width="0.5"/>
<line x1="90.4" y1="-32" x2="90.4" y2="0" stroke="#999" stroke-width="0.5"/>
<line x1="92.1" y1="-32.4" x2="92.1" y2="0" stroke="#6a6a6a" stroke-width="0.6" fill="none"/>
<path d="M115.8 -36.5 L118.2 -36.5 L118.2 -46.5 L120.3 -44.7 L122.3 -46.9 L127.9 -46.9 L127.9 -38 L130.6 -35.3 L130.6 0" stroke="#2e2e2e" stroke-width="1.05" fill="none"/>
<path d="M118.2 -33.2 L127.9 -33.2" stroke="#484848" stroke-width="0.8" fill="none"/>
<path d="M118.2 -36.5 L118.2 -33.2" stroke="#484848" stroke-width="0.8" fill="none"/>
<line x1="117.4" y1="-33.2" x2="117.4" y2="0" stroke="#6a6a6a" stroke-width="0.6" fill="none"/>
<line x1="119.8" y1="-33.2" x2="119.8" y2="0" stroke="#6a6a6a" stroke-width="0.6" fill="none"/>
<line x1="127.9" y1="-33.2" x2="127.9" y2="0" stroke="#6a6a6a" stroke-width="0.6" fill="none"/>
</g>
<g transform="scale(1 -1)">
<path d="M78.6 -23.2 L82.3 -23.2 L82.3 -27 L86.2 -32.4 L94 -32.4" stroke="#2e2e2e" stroke-width="1.05" fill="none"/>
<line x1="82.3" y1="-23.2" x2="82.3" y2="0" stroke="#484848" stroke-width="0.8" fill="none"/>
<line x1="84" y1="-29.5" x2="84" y2="0" stroke="#999" stroke-width="0.5"/>
<line x1="85.6" y1="-29.5" x2="85.6" y2="0" stroke="#999" stroke-width="0.5"/>
<line x1="87.2" y1="-32" x2="87.2" y2="0" stroke="#999" stroke-width="0.5"/>
<line x1="88.8" y1="-32" x2="88.8" y2="0" stroke="#999" stroke-width="0.5"/>
<line x1="90.4" y1="-32" x2="90.4" y2="0" stroke="#999" stroke-width="0.5"/>
<line x1="92.1" y1="-32.4" x2="92.1" y2="0" stroke="#6a6a6a" stroke-width="0.6" fill="none"/>
<path d="M115.8 -36.5 L118.2 -36.5 L118.2 -46.5 L120.3 -44.7 L122.3 -46.9 L127.9 -46.9 L127.9 -38 L130.6 -35.3 L130.6 0" stroke="#2e2e2e" stroke-width="1.05" fill="none"/>
<path d="M118.2 -33.2 L127.9 -33.2" stroke="#484848" stroke-width="0.8" fill="none"/>
<path d="M118.2 -36.5 L118.2 -33.2" stroke="#484848" stroke-width="0.8" fill="none"/>
<line x1="117.4" y1="-33.2" x2="117.4" y2="0" stroke="#6a6a6a" stroke-width="0.6" fill="none"/>
<line x1="119.8" y1="-33.2" x2="119.8" y2="0" stroke="#6a6a6a" stroke-width="0.6" fill="none"/>
<line x1="127.9" y1="-33.2" x2="127.9" y2="0" stroke="#6a6a6a" stroke-width="0.6" fill="none"/>
</g>
<path d="M118.6 -37.5 L127.4 -46.3" stroke="#484848" stroke-width="0.8" fill="none"/>
<path d="M118.6 -33.5 L127.8 -42.7" stroke="#484848" stroke-width="0.8" fill="none"/>
<path d="M122.6 -33.5 L127.8 -38.7" stroke="#484848" stroke-width="0.8" fill="none"/>
<path d="M118.8 45.7 L127.4 37.1" stroke="#484848" stroke-width="0.8" fill="none"/>
<path d="M123.3 46.1 L127.8 41.6" stroke="#484848" stroke-width="0.8" fill="none"/>
<path d="M118.6 41.1 L126.2 33.5" stroke="#484848" stroke-width="0.8" fill="none"/>
<rect x="94" y="-37.7" width="21.8" height="75.4" fill="#fafafa" stroke="#1e1e1e" stroke-width="1.4"/>
<line x1="94" y1="-34.8" x2="115.8" y2="-34.8" stroke="#3c3c3c" stroke-width="0.75"/>
<line x1="94" y1="-31.9" x2="115.8" y2="-31.9" stroke="#3c3c3c" stroke-width="0.75"/>
<line x1="94" y1="-29" x2="115.8" y2="-29" stroke="#3c3c3c" stroke-width="0.75"/>
<line x1="94" y1="-26.1" x2="115.8" y2="-26.1" stroke="#3c3c3c" stroke-width="0.75"/>
<line x1="94" y1="-23.2" x2="115.8" y2="-23.2" stroke="#3c3c3c" stroke-width="0.75"/>
<line x1="94" y1="-20.3" x2="115.8" y2="-20.3" stroke="#3c3c3c" stroke-width="0.75"/>
<line x1="94" y1="-17.4" x2="115.8" y2="-17.4" stroke="#3c3c3c" stroke-width="0.75"/>
<line x1="94" y1="-14.5" x2="115.8" y2="-14.5" stroke="#3c3c3c" stroke-width="0.75"/>
<line x1="94" y1="-11.6" x2="115.8" y2="-11.6" stroke="#3c3c3c" stroke-width="0.75"/>
<line x1="94" y1="-8.7" x2="115.8" y2="-8.7" stroke="#3c3c3c" stroke-width="0.75"/>
<line x1="94" y1="-5.8" x2="115.8" y2="-5.8" stroke="#3c3c3c" stroke-width="0.75"/>
<line x1="94" y1="-2.9" x2="115.8" y2="-2.9" stroke="#3c3c3c" stroke-width="0.75"/>
<line x1="94" y1="0" x2="115.8" y2="0" stroke="#3c3c3c" stroke-width="0.75"/>
<line x1="94" y1="2.9" x2="115.8" y2="2.9" stroke="#3c3c3c" stroke-width="0.75"/>
<line x1="94" y1="5.8" x2="115.8" y2="5.8" stroke="#3c3c3c" stroke-width="0.75"/>
<line x1="94" y1="8.7" x2="115.8" y2="8.7" stroke="#3c3c3c" stroke-width="0.75"/>
<line x1="94" y1="11.6" x2="115.8" y2="11.6" stroke="#3c3c3c" stroke-width="0.75"/>
<line x1="94" y1="14.5" x2="115.8" y2="14.5" stroke="#3c3c3c" stroke-width="0.75"/>
<line x1="94" y1="17.4" x2="115.8" y2="17.4" stroke="#3c3c3c" stroke-width="0.75"/>
<line x1="94" y1="20.3" x2="115.8" y2="20.3" stroke="#3c3c3c" stroke-width="0.75"/>
<line x1="94" y1="23.2" x2="115.8" y2="23.2" stroke="#3c3c3c" stroke-width="0.75"/>
<line x1="94" y1="26.1" x2="115.8" y2="26.1" stroke="#3c3c3c" stroke-width="0.75"/>
<line x1="94" y1="29" x2="115.8" y2="29" stroke="#3c3c3c" stroke-width="0.75"/>
<line x1="94" y1="31.9" x2="115.8" y2="31.9" stroke="#3c3c3c" stroke-width="0.75"/>
<line x1="94" y1="34.8" x2="115.8" y2="34.8" stroke="#3c3c3c" stroke-width="0.75"/>
<rect x="94" y="33.2" width="21.8" height="4.5" fill="#999" stroke="none" opacity="0.7"/>
<rect x="94" y="-36.7" width="21.8" height="4" fill="#bbb" stroke="none" opacity="0.6"/>
</g>
<line x1="484.8" y1="163.5" x2="484.8" y2="194" stroke="#555" stroke-width="0.6" fill="none"/>
<line x1="493.8" y1="163.5" x2="493.8" y2="194" stroke="#555" stroke-width="0.6" fill="none"/>
<line x1="410.6" y1="191" x2="484.8" y2="191" stroke="#555" stroke-width="0.6" fill="none"/>
<path d="M484.8 191 L480.3 191.9 L480.3 190.1 Z" fill="#444"/>
<line x1="493.8" y1="191" x2="505" y2="191" stroke="#555" stroke-width="0.6" fill="none"/>
<path d="M493.8 191 L498.3 190.1 L498.3 191.9 Z" fill="#444"/>
<text x="413.2" y="188.4" font-size="12.2" fill="#2e2e2e" textLength="65.8" lengthAdjust="spacingAndGlyphs" >t=8mm Max.</text>
<g transform="translate(568.2 116.3) scale(1.0)">
<line x1="-43" y1="0" x2="43" y2="0" stroke="#6a6a6a" stroke-width="0.6" fill="none"/>
<line x1="0" y1="-51" x2="0" y2="52" stroke="#6a6a6a" stroke-width="0.6" fill="none"/>
<g transform="scale(1 1)">
<path d="M-32.3 -21.5 L-32.3 -43.4 L-30.799999999999997 -46.4 L-9 -46.4 L-7.5 -43.4" stroke="#2e2e2e" stroke-width="1.05" fill="none"/>
<path d="M32.3 -21.5 L32.3 -43.4 L30.799999999999997 -46.4 L9 -46.4 L7.5 -43.4" stroke="#2e2e2e" stroke-width="1.05" fill="none"/>
<g transform="scale(-1 1)">
<path d="M32.3 -38.4 L29.299999999999997 -38.4 L29.299999999999997 -33.9 L31.299999999999997 -33.9" stroke="#6a6a6a" stroke-width="0.6" fill="none"/>
<path d="M28.799999999999997 -35.9 L9 -35.9" stroke="#484848" stroke-width="0.8" fill="none"/>
<path d="M27.799999999999997 -33.9 L10 -33.9" stroke="#6a6a6a" stroke-width="0.6" fill="none"/>
<path d="M25.5 -35.9 A8 8 0 0 0 9.5 -35.9" stroke="#484848" stroke-width="0.8" fill="none"/>
<path d="M23 -35.9 A6 5 0 0 0 12 -35.9" stroke="#6a6a6a" stroke-width="0.6" fill="none"/>
</g>
<g transform="scale(1 1)">
<path d="M32.3 -38.4 L29.299999999999997 -38.4 L29.299999999999997 -33.9 L31.299999999999997 -33.9" stroke="#6a6a6a" stroke-width="0.6" fill="none"/>
<path d="M28.799999999999997 -35.9 L9 -35.9" stroke="#484848" stroke-width="0.8" fill="none"/>
<path d="M27.799999999999997 -33.9 L10 -33.9" stroke="#6a6a6a" stroke-width="0.6" fill="none"/>
<path d="M25.5 -35.9 A8 8 0 0 0 9.5 -35.9" stroke="#484848" stroke-width="0.8" fill="none"/>
<path d="M23 -35.9 A6 5 0 0 0 12 -35.9" stroke="#6a6a6a" stroke-width="0.6" fill="none"/>
</g>
<path d="M-7.5 -43.4 L-4.8 -47.4 L4.8 -47.4 L7.5 -43.4 L7.5 -35.9 M-7.5 -43.4 L-7.5 -35.9" stroke="#484848" stroke-width="0.8" fill="none"/>
<path d="M-3 -35.9 L-3 -41.4 A3 3 0 0 1 3 -41.4 L3 -35.9" stroke="#484848" stroke-width="0.8" fill="none"/>
<path d="M-4.5 -47.8 l1 -0.8 l1 0.8 l1 -0.8 l1 0.8 l1 -0.8 l1 0.8 l1 -0.8 l1 0.8 l1 -0.7" stroke="#222" stroke-width="1.3" fill="none"/>
</g>
<g transform="scale(-1 1)">
<path d="M32.3 21.5 L32.3 34.2 L30.999999999999996 34.2 L30.999999999999996 40.3 L26.999999999999996 40.3 L26.999999999999996 34.2 L23.299999999999997 34.2" stroke="#2e2e2e" stroke-width="1.05" fill="none"/>
</g>
<g transform="scale(1 1)">
<path d="M32.3 21.5 L32.3 34.2 L30.999999999999996 34.2 L30.999999999999996 40.3 L26.999999999999996 40.3 L26.999999999999996 34.2 L23.299999999999997 34.2" stroke="#2e2e2e" stroke-width="1.05" fill="none"/>
</g>
<path d="M-8.3 38 L-6.8 46 l1 -0.6 l1 0.6 l1 -0.6 l1 0.6 l1 -0.6 l1 0.6 L4.8 46 L7 38" stroke="#2e2e2e" stroke-width="1.05" fill="none"/>
<path d="M-2.8 38.6 L-2.8 42 A2.8 2.8 0 0 0 2.8 42 L2.8 38.6" stroke="#484848" stroke-width="0.8" fill="none"/>
<ellipse cx="0" cy="1.0" rx="38.9" ry="37.69" stroke="#2e2e2e" stroke-width="1.05" fill="none"/>
<ellipse cx="0" cy="1.0" rx="35.1" ry="34.01" stroke="#484848" stroke-width="0.8" fill="none"/>
<ellipse cx="0" cy="0.5" rx="28.7" ry="27.81" stroke="#2e2e2e" stroke-width="1.05" fill="none"/>
<ellipse cx="0" cy="0.3" rx="23.7" ry="22.97" stroke="#484848" stroke-width="0.8" fill="none"/>
<ellipse cx="0" cy="0" rx="21.9" ry="21.22" stroke="#2e2e2e" stroke-width="1.05" fill="none"/>
</g>
<line x1="529.4" y1="116" x2="529.4" y2="194.2" stroke="#555" stroke-width="0.6" fill="none"/>
<line x1="607" y1="116" x2="607" y2="194.2" stroke="#555" stroke-width="0.6" fill="none"/>
<line x1="529.4" y1="191" x2="607" y2="191" stroke="#555" stroke-width="0.6" fill="none"/>
<path d="M529.4 191 L533.9 190.1 L533.9 191.9 Z" fill="#444"/>
<path d="M607 191 L602.5 191.9 L602.5 190.1 Z" fill="#444"/>
<text x="558.2" y="188.6" font-size="12.2" fill="#2e2e2e" textLength="21.8" lengthAdjust="spacingAndGlyphs" >Ø35</text>
<line x1="255" y1="256.5" x2="255" y2="277" stroke="#555" stroke-width="0.6" fill="none"/>
<line x1="314.8" y1="256.5" x2="314.8" y2="277" stroke="#555" stroke-width="0.6" fill="none"/>
<line x1="255" y1="260.4" x2="314.8" y2="260.4" stroke="#555" stroke-width="0.6" fill="none"/>
<path d="M255 260.4 L259.5 259.5 L259.5 261.3 Z" fill="#444"/>
<path d="M314.8 260.4 L310.3 261.3 L310.3 259.5 Z" fill="#444"/>
<text x="275" y="257.9" font-size="11.2" fill="#2e2e2e" textLength="20.8" lengthAdjust="spacingAndGlyphs" >29.7</text>
<g transform="translate(284.8 319.4) scale(0.925)">
<line x1="-43" y1="0" x2="43" y2="0" stroke="#6a6a6a" stroke-width="0.6" fill="none"/>
<line x1="0" y1="-49" x2="0" y2="51" stroke="#6a6a6a" stroke-width="0.6" fill="none"/>
<g transform="scale(1 1)">
<path d="M-32.1 -24 L-32.1 -42.8 Q-31.6 -46.3 -28.6 -46.3 L-8 -46.3 L-6.6 -44.3 L-6.6 -24" stroke="#2e2e2e" stroke-width="1.05" fill="none"/>
<path d="M32.1 -24 L32.1 -42.8 Q31.6 -46.3 28.6 -46.3 L8 -46.3 L6.6 -44.3 L6.6 -24" stroke="#2e2e2e" stroke-width="1.05" fill="none"/>
<line x1="-32.1" y1="-24" x2="32.1" y2="-24" stroke="#484848" stroke-width="0.8" fill="none"/>
<line x1="-32.1" y1="-22.1" x2="32.1" y2="-22.1" stroke="#484848" stroke-width="0.8" fill="none"/>
<path d="M-32.1 -36.8 L-29.3 -36.8 L-29.3 -24" stroke="#6a6a6a" stroke-width="0.6" fill="none"/>
<path d="M32.1 -36.8 L29.3 -36.8 L29.3 -24" stroke="#6a6a6a" stroke-width="0.6" fill="none"/>
<path d="M-6.0 -24 L-6.0 -36.1 L6.2 -36.1 L6.2 -24" stroke="#8c8c8c" stroke-width="2.1" fill="none"/>
<path d="M-7.05 -24 L-7.05 -37.2 L7.3 -37.2 L7.3 -24" stroke="#484848" stroke-width="0.8" fill="none"/>
<path d="M-4.95 -24 L-4.95 -35.1 L5.15 -35.1 L5.15 -24" stroke="#484848" stroke-width="0.8" fill="none"/>
<path d="M-3 -24 L-3 -33.4 L3.4 -33.4 L3.4 -24" stroke="#484848" stroke-width="0.8" fill="none"/>
<path d="M-4 -37.2 L-4 -42 A4 4 0 0 1 4 -42 L4 -37.2" stroke="#484848" stroke-width="0.8" fill="none"/>
<path d="M-3 -37.2 L-3 -42 A3 3.2 0 0 1 3 -42 L3 -37.2" stroke="#6a6a6a" stroke-width="0.6" fill="none"/>
<path d="M-8.8 -46.6 l1.2 -0.6 l1 0.6 l1 -0.9 l1 0.8 l1 -0.9 l1 0.8 l1 -0.9 l1 0.8 l1 -0.9 l1 0.8 l1 -0.9 l1 0.6" stroke="#222" stroke-width="1.3" fill="none"/>
</g>
<ellipse cx="-17.1" cy="-34.9" rx="8.1" ry="8.3" stroke="#444" stroke-width="1" fill="none"/>
<line x1="-20.5" y1="-38.3" x2="-13.7" y2="-31.5" stroke="#2a2a2a" stroke-width="1.5"/>
<line x1="-20.5" y1="-31.5" x2="-13.7" y2="-38.3" stroke="#2a2a2a" stroke-width="1.5"/>
<line x1="-23.3" y1="-30.3" x2="-12.5" y2="-41.1" stroke="#484848" stroke-width="0.8" fill="none"/>
<line x1="-21.7" y1="-28.7" x2="-10.9" y2="-39.5" stroke="#484848" stroke-width="0.8" fill="none"/>
<ellipse cx="17.1" cy="-34.9" rx="8.1" ry="8.3" stroke="#444" stroke-width="1" fill="none"/>
<line x1="13.7" y1="-38.3" x2="20.5" y2="-31.5" stroke="#2a2a2a" stroke-width="1.5"/>
<line x1="13.7" y1="-31.5" x2="20.5" y2="-38.3" stroke="#2a2a2a" stroke-width="1.5"/>
<line x1="10.9" y1="-30.3" x2="21.7" y2="-41.1" stroke="#484848" stroke-width="0.8" fill="none"/>
<line x1="12.5" y1="-28.7" x2="23.3" y2="-39.5" stroke="#484848" stroke-width="0.8" fill="none"/>
<g transform="scale(1 -1)">
<path d="M-32.1 -24 L-32.1 -42.8 Q-31.6 -46.3 -28.6 -46.3 L-8 -46.3 L-6.6 -44.3 L-6.6 -24" stroke="#2e2e2e" stroke-width="1.05" fill="none"/>
<path d="M32.1 -24 L32.1 -42.8 Q31.6 -46.3 28.6 -46.3 L8 -46.3 L6.6 -44.3 L6.6 -24" stroke="#2e2e2e" stroke-width="1.05" fill="none"/>
<line x1="-32.1" y1="-24" x2="32.1" y2="-24" stroke="#484848" stroke-width="0.8" fill="none"/>
<line x1="-32.1" y1="-22.1" x2="32.1" y2="-22.1" stroke="#484848" stroke-width="0.8" fill="none"/>
<path d="M-32.1 -36.8 L-29.3 -36.8 L-29.3 -24" stroke="#6a6a6a" stroke-width="0.6" fill="none"/>
<path d="M32.1 -36.8 L29.3 -36.8 L29.3 -24" stroke="#6a6a6a" stroke-width="0.6" fill="none"/>
<path d="M-6.0 -24 L-6.0 -36.1 L6.2 -36.1 L6.2 -24" stroke="#8c8c8c" stroke-width="2.1" fill="none"/>
<path d="M-7.05 -24 L-7.05 -37.2 L7.3 -37.2 L7.3 -24" stroke="#484848" stroke-width="0.8" fill="none"/>
<path d="M-4.95 -24 L-4.95 -35.1 L5.15 -35.1 L5.15 -24" stroke="#484848" stroke-width="0.8" fill="none"/>
<path d="M-3 -24 L-3 -33.4 L3.4 -33.4 L3.4 -24" stroke="#484848" stroke-width="0.8" fill="none"/>
<path d="M-4 -37.2 L-4 -42 A4 4 0 0 1 4 -42 L4 -37.2" stroke="#484848" stroke-width="0.8" fill="none"/>
<path d="M-3 -37.2 L-3 -42 A3 3.2 0 0 1 3 -42 L3 -37.2" stroke="#6a6a6a" stroke-width="0.6" fill="none"/>
</g>
<ellipse cx="-17.1" cy="34.9" rx="8.1" ry="8.3" stroke="#444" stroke-width="1" fill="none"/>
<line x1="-20.5" y1="31.5" x2="-13.7" y2="38.3" stroke="#2a2a2a" stroke-width="1.5"/>
<line x1="-20.5" y1="38.3" x2="-13.7" y2="31.5" stroke="#2a2a2a" stroke-width="1.5"/>
<line x1="-23.3" y1="39.5" x2="-12.5" y2="28.7" stroke="#484848" stroke-width="0.8" fill="none"/>
<line x1="-21.7" y1="41.1" x2="-10.9" y2="30.3" stroke="#484848" stroke-width="0.8" fill="none"/>
<ellipse cx="17.1" cy="34.9" rx="8.1" ry="8.3" stroke="#444" stroke-width="1" fill="none"/>
<line x1="13.7" y1="31.5" x2="20.5" y2="38.3" stroke="#2a2a2a" stroke-width="1.5"/>
<line x1="13.7" y1="38.3" x2="20.5" y2="31.5" stroke="#2a2a2a" stroke-width="1.5"/>
<line x1="10.9" y1="39.5" x2="21.7" y2="28.7" stroke="#484848" stroke-width="0.8" fill="none"/>
<line x1="12.5" y1="41.1" x2="23.3" y2="30.3" stroke="#484848" stroke-width="0.8" fill="none"/>
<path d="M-32.1 -21.074866547620175 A38.4 38.4 0 0 0 -32.1 21.074866547620175" stroke="#484848" stroke-width="0.8" fill="none"/>
<path d="M32.1 -21.074866547620175 A38.4 38.4 0 0 1 32.1 21.074866547620175" stroke="#484848" stroke-width="0.8" fill="none"/>
<line x1="-32.1" y1="-24" x2="-32.1" y2="21.4" stroke="#2e2e2e" stroke-width="1.05" fill="none"/>
<line x1="32.1" y1="-24" x2="32.1" y2="21.4" stroke="#2e2e2e" stroke-width="1.05" fill="none"/>
<line x1="-30.5" y1="-22" x2="-30.5" y2="21.4" stroke="#6a6a6a" stroke-width="0.6" fill="none"/>
<line x1="30.5" y1="-22" x2="30.5" y2="21.4" stroke="#6a6a6a" stroke-width="0.6" fill="none"/>
<line x1="-27.9" y1="-20" x2="-27.9" y2="21.4" stroke="#6a6a6a" stroke-width="0.6" fill="none"/>
<line x1="27.9" y1="-20" x2="27.9" y2="21.4" stroke="#6a6a6a" stroke-width="0.6" fill="none"/>
<rect x="-25.6" y="-19.5" width="16.7" height="15" rx="0" stroke="#484848" stroke-width="0.8" fill="none"/>
<rect x="-24" y="-17.3" width="13.5" height="10.8" rx="0" stroke="#484848" stroke-width="0.8" fill="none"/>
<rect x="-25.6" y="4.8" width="16.7" height="14.8" rx="0" stroke="#484848" stroke-width="0.8" fill="none"/>
<rect x="-24" y="7" width="13.5" height="10.6" rx="0" stroke="#484848" stroke-width="0.8" fill="none"/>
<rect x="8.9" y="-19.5" width="16.7" height="15" rx="0" stroke="#484848" stroke-width="0.8" fill="none"/>
<rect x="10.5" y="-17.3" width="13.5" height="10.8" rx="0" stroke="#484848" stroke-width="0.8" fill="none"/>
<rect x="8.9" y="4.8" width="16.7" height="14.8" rx="0" stroke="#484848" stroke-width="0.8" fill="none"/>
<rect x="10.5" y="7" width="13.5" height="10.6" rx="0" stroke="#484848" stroke-width="0.8" fill="none"/>
<rect x="-8.1" y="-19" width="3.1" height="16.3" fill="#cfcfcf"/>
<rect x="5" y="-19" width="3.1" height="16.3" fill="#cfcfcf"/>
<path d="M-8.1 -2.7 L-8.1 -19.3 Q-8.1 -21.7 -5.5 -21.7 L5.5 -21.7 Q8.1 -21.7 8.1 -19.3 L8.1 -2.7" stroke="#484848" stroke-width="0.8" fill="none"/>
<path d="M-5 -2.7 L-5 -20 M5 -2.7 L5 -20" stroke="#484848" stroke-width="0.8" fill="none"/>
<path d="M-8.1 -19.5 Q0 -8.5 8.1 -19.5" stroke="#484848" stroke-width="0.8" fill="none"/>
<line x1="-8.1" y1="-2.7" x2="8.1" y2="-2.7" stroke="#484848" stroke-width="0.8" fill="none"/>
<rect x="-8.1" y="2.7" width="3.1" height="16.3" fill="#cfcfcf"/>
<rect x="5" y="2.7" width="3.1" height="16.3" fill="#cfcfcf"/>
<path d="M-8.1 2.7 L-8.1 19.3 Q-8.1 21.7 -5.5 21.7 L5.5 21.7 Q8.1 21.7 8.1 19.3 L8.1 2.7" stroke="#484848" stroke-width="0.8" fill="none"/>
<path d="M-5 2.7 L-5 20 M5 2.7 L5 20" stroke="#484848" stroke-width="0.8" fill="none"/>
<path d="M-8.1 19.5 Q0 8.5 8.1 19.5" stroke="#484848" stroke-width="0.8" fill="none"/>
<line x1="-8.1" y1="2.7" x2="8.1" y2="2.7" stroke="#484848" stroke-width="0.8" fill="none"/>
<g transform="scale(-1 1)">
<path d="M10 -1.2 L14 -1.2 L15 -0.2 L19 -0.2 L20 -1.2 L26 -1.2 M10.5 1.8 L14 1.8 L15 0.8 L19 0.8 L20 1.8 L26 1.8" stroke="#484848" stroke-width="0.8" fill="none"/>
<ellipse cx="8.2" cy="0.4" rx="2.3" ry="1.5" stroke="#444" stroke-width="0.7" fill="#fff"/>
<path d="M26 -3.5 L29 -3.5 L29 3.5 L26 3.5" stroke="#6a6a6a" stroke-width="0.6" fill="none"/>
</g>
<g transform="scale(1 1)">
<path d="M10 -1.2 L14 -1.2 L15 -0.2 L19 -0.2 L20 -1.2 L26 -1.2 M10.5 1.8 L14 1.8 L15 0.8 L19 0.8 L20 1.8 L26 1.8" stroke="#484848" stroke-width="0.8" fill="none"/>
<ellipse cx="8.2" cy="0.4" rx="2.3" ry="1.5" stroke="#444" stroke-width="0.7" fill="#fff"/>
<path d="M26 -3.5 L29 -3.5 L29 3.5 L26 3.5" stroke="#6a6a6a" stroke-width="0.6" fill="none"/>
</g>
<line x1="-32.1" y1="-2.6" x2="32.1" y2="-2.6" stroke="#6a6a6a" stroke-width="0.6" fill="none"/>
<line x1="-32.1" y1="2.9" x2="32.1" y2="2.9" stroke="#6a6a6a" stroke-width="0.6" fill="none"/>
<line x1="-32.1" y1="21.4" x2="32.1" y2="21.4" stroke="#484848" stroke-width="0.8" fill="none"/>
</g>
<text x="384.3" y="231.6" font-size="11.2" fill="#2e2e2e" textLength="52.3" lengthAdjust="spacingAndGlyphs" >M3.5 × 7.5</text>
<text x="439.8" y="232.1" font-size="11.1" text-anchor="start" fill="#1a1a1a" >端子螺丝</text>
<path d="M494.8 238.3 L357.3 238.3 L381.6 279" stroke="#444" stroke-width="0.8" fill="none"/>
<path d="M382.8 281 L379.58 277.57 L381.3 276.54 Z" fill="#444"/>
<line x1="361.7" y1="254.5" x2="361.7" y2="300" stroke="#555" stroke-width="0.6" fill="none"/>
<line x1="477.8" y1="254.5" x2="477.8" y2="391.4" stroke="#555" stroke-width="0.6" fill="none"/>
<line x1="518.4" y1="254.5" x2="518.4" y2="312" stroke="#555" stroke-width="0.6" fill="none"/>
<line x1="361.7" y1="258.5" x2="477.8" y2="258.5" stroke="#555" stroke-width="0.6" fill="none"/>
<path d="M361.7 258.5 L366.2 257.6 L366.2 259.4 Z" fill="#444"/>
<path d="M477.8 258.5 L473.3 259.4 L473.3 257.6 Z" fill="#444"/>
<line x1="477.8" y1="258.5" x2="518.4" y2="258.5" stroke="#555" stroke-width="0.6" fill="none"/>
<path d="M477.8 258.5 L482.3 257.6 L482.3 259.4 Z" fill="#444"/>
<path d="M518.4 258.5 L513.9 259.4 L513.9 257.6 Z" fill="#444"/>
<text x="414" y="256.8" font-size="11.2" fill="#2e2e2e" textLength="12.4" lengthAdjust="spacingAndGlyphs" >58</text>
<text x="489.2" y="256.8" font-size="11.2" fill="#2e2e2e" textLength="19.8" lengthAdjust="spacingAndGlyphs" >19.5</text>
<line x1="343.9" y1="275" x2="406" y2="275" stroke="#555" stroke-width="0.6" fill="none"/>
<line x1="343.9" y1="364.1" x2="416" y2="364.1" stroke="#555" stroke-width="0.6" fill="none"/>
<line x1="346.7" y1="275" x2="346.7" y2="364.1" stroke="#555" stroke-width="0.6" fill="none"/>
<path d="M346.7 275 L347.6 279.5 L345.8 279.5 Z" fill="#444"/>
<path d="M346.7 364.1 L345.8 359.6 L347.6 359.6 Z" fill="#444"/>
<text transform="translate(343.8 326.2) rotate(-90)" font-size="11.2" fill="#2e2e2e" textLength="12.2" lengthAdjust="spacingAndGlyphs">44</text>
<g transform="translate(361.7 319.5) scale(0.912)">
<line x1="-2.2" y1="0" x2="162.6" y2="0" stroke="#6a6a6a" stroke-width="0.6" fill="none"/>
<g transform="scale(1 1)">
<path d="M7 -38 L10.2 -46.1 L20.7 -46.1 L23.2 -40.9" stroke="#2e2e2e" stroke-width="1.05" fill="none"/>
<path d="M17.5 -38 L2.6 -38 L2.6 -21" stroke="#2e2e2e" stroke-width="1.05" fill="none"/>
<path d="M2.6 -21 L1.2 -20.7 L0.4 -19.3 L0.4 -4.1 L1.7 -2.7 L1.7 0" stroke="#2e2e2e" stroke-width="1.05" fill="none"/>
<line x1="2.6" y1="-21" x2="2.6" y2="0" stroke="#6a6a6a" stroke-width="0.6" fill="none"/>
<line x1="2.6" y1="-21" x2="28.8" y2="-21" stroke="#2e2e2e" stroke-width="1.05" fill="none"/>
<line x1="2.6" y1="-19.3" x2="26.8" y2="-19.3" stroke="#6a6a6a" stroke-width="0.6" fill="none"/>
<path d="M17.5 -38 L12.6 -22.7 L25.6 -22.7" stroke="#2e2e2e" stroke-width="1.05" fill="none"/>
<path d="M19.1 -34.8 L22.3 -40.5 L31.2 -37.2 L25.6 -22.7" stroke="#2e2e2e" stroke-width="1.05" fill="none"/>
<path d="M20.1 -32.5 L18.3 -26 L23.8 -24" stroke="#484848" stroke-width="0.8" fill="none"/>
<path d="M23.3 -36 L28.3 -34.2" stroke="#484848" stroke-width="0.8" fill="none"/>
<path d="M22.6 -33.9 L27.6 -32.1" stroke="#484848" stroke-width="0.8" fill="none"/>
<path d="M21.8 -31.7 L26.8 -29.9" stroke="#484848" stroke-width="0.8" fill="none"/>
<path d="M25.3 -37.5 L22.1 -28.5" stroke="#6a6a6a" stroke-width="0.6" fill="none"/>
<path d="M23.2 -40.9 L47.4 -40.9 L47.4 0" stroke="#2e2e2e" stroke-width="1.05" fill="none"/>
<path d="M34 -35.9 L45.8 -35.9 L45.8 -2 L29.6 -2 L29.6 -21 L34 -35.9 Z" stroke="#484848" stroke-width="0.8" fill="none"/>
<line x1="27" y1="-21" x2="27" y2="0" stroke="#6a6a6a" stroke-width="0.6" fill="none"/>
<line x1="28.8" y1="-21" x2="28.8" y2="0" stroke="#6a6a6a" stroke-width="0.6" fill="none"/>
<rect x="12.6" y="-14.6" width="8.1" height="7.3" rx="0" stroke="#484848" stroke-width="0.8" fill="none"/>
<line x1="15.8" y1="-14.6" x2="15.8" y2="-7.3" stroke="#6a6a6a" stroke-width="0.6" fill="none"/>
<rect x="51.1" y="-48.2" width="7.5" height="13.9" rx="0" stroke="#2e2e2e" stroke-width="1.05" fill="none"/>
<path d="M47.4 -34 L78.6 -34 L78.6 -23.2" stroke="#2e2e2e" stroke-width="1.05" fill="none"/>
<line x1="47.4" y1="-31.5" x2="78.6" y2="-31.5" stroke="#6a6a6a" stroke-width="0.6" fill="none"/>
<rect x="50" y="-29.1" width="4.8" height="6.4" rx="0" stroke="#484848" stroke-width="0.8" fill="none"/>
<line x1="47.4" y1="-22.7" x2="77.3" y2="-22.7" stroke="#6a6a6a" stroke-width="0.6" fill="none"/>
<line x1="47.4" y1="-21" x2="78.6" y2="-21" stroke="#484848" stroke-width="0.8" fill="none"/>
<line x1="77" y1="-31.5" x2="77" y2="0" stroke="#6a6a6a" stroke-width="0.6" fill="none"/>
<line x1="78.6" y1="-21" x2="78.6" y2="0" stroke="#484848" stroke-width="0.8" fill="none"/>
<line x1="49" y1="-19" x2="49" y2="0" stroke="#6a6a6a" stroke-width="0.6" fill="none"/>
<path d="M66.4 -14.6 L51.4 -14.6 Q47.6 -11 51.4 -7.3 L66.4 -7.3 Z" stroke="#484848" stroke-width="0.8" fill="none"/>
<line x1="59" y1="-14.6" x2="59" y2="-7.3" stroke="#484848" stroke-width="0.8" fill="none"/>
<line x1="62.3" y1="-14.6" x2="62.3" y2="-7.3" stroke="#484848" stroke-width="0.8" fill="none"/>
<line x1="71.2" y1="-19" x2="71.2" y2="-2.5" stroke="#6a6a6a" stroke-width="0.6" fill="none"/>
</g>
<g transform="scale(1 -1)">
<path d="M7 -38 L10.2 -46.1 L20.7 -46.1 L23.2 -40.9" stroke="#2e2e2e" stroke-width="1.05" fill="none"/>
<path d="M17.5 -38 L2.6 -38 L2.6 -21" stroke="#2e2e2e" stroke-width="1.05" fill="none"/>
<path d="M2.6 -21 L1.2 -20.7 L0.4 -19.3 L0.4 -4.1 L1.7 -2.7 L1.7 0" stroke="#2e2e2e" stroke-width="1.05" fill="none"/>
<line x1="2.6" y1="-21" x2="2.6" y2="0" stroke="#6a6a6a" stroke-width="0.6" fill="none"/>
<line x1="2.6" y1="-21" x2="28.8" y2="-21" stroke="#2e2e2e" stroke-width="1.05" fill="none"/>
<line x1="2.6" y1="-19.3" x2="26.8" y2="-19.3" stroke="#6a6a6a" stroke-width="0.6" fill="none"/>
<path d="M17.5 -38 L12.6 -22.7 L25.6 -22.7" stroke="#2e2e2e" stroke-width="1.05" fill="none"/>
<path d="M19.1 -34.8 L22.3 -40.5 L31.2 -37.2 L25.6 -22.7" stroke="#2e2e2e" stroke-width="1.05" fill="none"/>
<path d="M20.1 -32.5 L18.3 -26 L23.8 -24" stroke="#484848" stroke-width="0.8" fill="none"/>
<path d="M23.3 -36 L28.3 -34.2" stroke="#484848" stroke-width="0.8" fill="none"/>
<path d="M22.6 -33.9 L27.6 -32.1" stroke="#484848" stroke-width="0.8" fill="none"/>
<path d="M21.8 -31.7 L26.8 -29.9" stroke="#484848" stroke-width="0.8" fill="none"/>
<path d="M25.3 -37.5 L22.1 -28.5" stroke="#6a6a6a" stroke-width="0.6" fill="none"/>
<path d="M23.2 -40.9 L47.4 -40.9 L47.4 0" stroke="#2e2e2e" stroke-width="1.05" fill="none"/>
<path d="M34 -35.9 L45.8 -35.9 L45.8 -2 L29.6 -2 L29.6 -21 L34 -35.9 Z" stroke="#484848" stroke-width="0.8" fill="none"/>
<line x1="27" y1="-21" x2="27" y2="0" stroke="#6a6a6a" stroke-width="0.6" fill="none"/>
<line x1="28.8" y1="-21" x2="28.8" y2="0" stroke="#6a6a6a" stroke-width="0.6" fill="none"/>
<rect x="12.6" y="-14.6" width="8.1" height="7.3" rx="0" stroke="#484848" stroke-width="0.8" fill="none"/>
<line x1="15.8" y1="-14.6" x2="15.8" y2="-7.3" stroke="#6a6a6a" stroke-width="0.6" fill="none"/>
<rect x="51.1" y="-48.2" width="7.5" height="13.9" rx="0" stroke="#2e2e2e" stroke-width="1.05" fill="none"/>
<path d="M47.4 -34 L78.6 -34 L78.6 -23.2" stroke="#2e2e2e" stroke-width="1.05" fill="none"/>
<line x1="47.4" y1="-31.5" x2="78.6" y2="-31.5" stroke="#6a6a6a" stroke-width="0.6" fill="none"/>
<rect x="50" y="-29.1" width="4.8" height="6.4" rx="0" stroke="#484848" stroke-width="0.8" fill="none"/>
<line x1="47.4" y1="-22.7" x2="77.3" y2="-22.7" stroke="#6a6a6a" stroke-width="0.6" fill="none"/>
<line x1="47.4" y1="-21" x2="78.6" y2="-21" stroke="#484848" stroke-width="0.8" fill="none"/>
<line x1="77" y1="-31.5" x2="77" y2="0" stroke="#6a6a6a" stroke-width="0.6" fill="none"/>
<line x1="78.6" y1="-21" x2="78.6" y2="0" stroke="#484848" stroke-width="0.8" fill="none"/>
<line x1="49" y1="-19" x2="49" y2="0" stroke="#6a6a6a" stroke-width="0.6" fill="none"/>
<path d="M66.4 -14.6 L51.4 -14.6 Q47.6 -11 51.4 -7.3 L66.4 -7.3 Z" stroke="#484848" stroke-width="0.8" fill="none"/>
<line x1="59" y1="-14.6" x2="59" y2="-7.3" stroke="#484848" stroke-width="0.8" fill="none"/>
<line x1="62.3" y1="-14.6" x2="62.3" y2="-7.3" stroke="#484848" stroke-width="0.8" fill="none"/>
<line x1="71.2" y1="-19" x2="71.2" y2="-2.5" stroke="#6a6a6a" stroke-width="0.6" fill="none"/>
</g>
<text transform="translate(41 4) rotate(90)" font-size="4.6" fill="#666" textLength="24" lengthAdjust="spacingAndGlyphs">KGPL H-LOC</text>
<text transform="translate(35.6 4) rotate(90)" font-size="3.2" fill="#777" textLength="20" lengthAdjust="spacingAndGlyphs">MADE IN KOREA</text>
<text transform="translate(36.8 -31) rotate(90)" font-family="'Liberation Serif', serif" font-weight="bold" font-size="8.4" fill="#111" stroke="#111" stroke-width="0.75" textLength="24.6" lengthAdjust="spacingAndGlyphs">Kelno</text>
<line x1="0.4" y1="-1.9" x2="78.6" y2="-1.9" stroke="#6a6a6a" stroke-width="0.6" fill="none"/>
<line x1="0.4" y1="1.9" x2="78.6" y2="1.9" stroke="#6a6a6a" stroke-width="0.6" fill="none"/>
<g transform="scale(1 1)">
<path d="M78.6 -23.2 L82.3 -23.2 L82.3 -27 L86.2 -32.4 L94 -32.4" stroke="#2e2e2e" stroke-width="1.05" fill="none"/>
<line x1="82.3" y1="-23.2" x2="82.3" y2="0" stroke="#484848" stroke-width="0.8" fill="none"/>
<line x1="84" y1="-29.5" x2="84" y2="0" stroke="#999" stroke-width="0.5"/>
<line x1="85.6" y1="-29.5" x2="85.6" y2="0" stroke="#999" stroke-width="0.5"/>
<line x1="87.2" y1="-32" x2="87.2" y2="0" stroke="#999" stroke-width="0.5"/>
<line x1="88.8" y1="-32" x2="88.8" y2="0" stroke="#999" stroke-width="0.5"/>
<line x1="90.4" y1="-32" x2="90.4" y2="0" stroke="#999" stroke-width="0.5"/>
<line x1="92.1" y1="-32.4" x2="92.1" y2="0" stroke="#6a6a6a" stroke-width="0.6" fill="none"/>
<path d="M115.8 -36.5 L118.2 -36.5 L118.2 -46.5 L120.3 -44.7 L122.3 -46.9 L127.9 -46.9 L127.9 -38 L130.6 -35.3 L130.6 0" stroke="#2e2e2e" stroke-width="1.05" fill="none"/>
<path d="M118.2 -33.2 L127.9 -33.2" stroke="#484848" stroke-width="0.8" fill="none"/>
<path d="M118.2 -36.5 L118.2 -33.2" stroke="#484848" stroke-width="0.8" fill="none"/>
<line x1="117.4" y1="-33.2" x2="117.4" y2="0" stroke="#6a6a6a" stroke-width="0.6" fill="none"/>
<line x1="119.8" y1="-33.2" x2="119.8" y2="0" stroke="#6a6a6a" stroke-width="0.6" fill="none"/>
<line x1="127.9" y1="-33.2" x2="127.9" y2="0" stroke="#6a6a6a" stroke-width="0.6" fill="none"/>
</g>
<g transform="scale(1 -1)">
<path d="M78.6 -23.2 L82.3 -23.2 L82.3 -27 L86.2 -32.4 L94 -32.4" stroke="#2e2e2e" stroke-width="1.05" fill="none"/>
<line x1="82.3" y1="-23.2" x2="82.3" y2="0" stroke="#484848" stroke-width="0.8" fill="none"/>
<line x1="84" y1="-29.5" x2="84" y2="0" stroke="#999" stroke-width="0.5"/>
<line x1="85.6" y1="-29.5" x2="85.6" y2="0" stroke="#999" stroke-width="0.5"/>
<line x1="87.2" y1="-32" x2="87.2" y2="0" stroke="#999" stroke-width="0.5"/>
<line x1="88.8" y1="-32" x2="88.8" y2="0" stroke="#999" stroke-width="0.5"/>
<line x1="90.4" y1="-32" x2="90.4" y2="0" stroke="#999" stroke-width="0.5"/>
<line x1="92.1" y1="-32.4" x2="92.1" y2="0" stroke="#6a6a6a" stroke-width="0.6" fill="none"/>
<path d="M115.8 -36.5 L118.2 -36.5 L118.2 -46.5 L120.3 -44.7 L122.3 -46.9 L127.9 -46.9 L127.9 -38 L130.6 -35.3 L130.6 0" stroke="#2e2e2e" stroke-width="1.05" fill="none"/>
<path d="M118.2 -33.2 L127.9 -33.2" stroke="#484848" stroke-width="0.8" fill="none"/>
<path d="M118.2 -36.5 L118.2 -33.2" stroke="#484848" stroke-width="0.8" fill="none"/>
<line x1="117.4" y1="-33.2" x2="117.4" y2="0" stroke="#6a6a6a" stroke-width="0.6" fill="none"/>
<line x1="119.8" y1="-33.2" x2="119.8" y2="0" stroke="#6a6a6a" stroke-width="0.6" fill="none"/>
<line x1="127.9" y1="-33.2" x2="127.9" y2="0" stroke="#6a6a6a" stroke-width="0.6" fill="none"/>
</g>
<path d="M118.6 -37.5 L127.4 -46.3" stroke="#484848" stroke-width="0.8" fill="none"/>
<path d="M118.6 -33.5 L127.8 -42.7" stroke="#484848" stroke-width="0.8" fill="none"/>
<path d="M122.6 -33.5 L127.8 -38.7" stroke="#484848" stroke-width="0.8" fill="none"/>
<path d="M118.8 45.7 L127.4 37.1" stroke="#484848" stroke-width="0.8" fill="none"/>
<path d="M123.3 46.1 L127.8 41.6" stroke="#484848" stroke-width="0.8" fill="none"/>
<path d="M118.6 41.1 L126.2 33.5" stroke="#484848" stroke-width="0.8" fill="none"/>
<rect x="94" y="-37.7" width="21.8" height="75.4" fill="#fafafa" stroke="#1e1e1e" stroke-width="1.4"/>
<line x1="94" y1="-34.8" x2="115.8" y2="-34.8" stroke="#3c3c3c" stroke-width="0.75"/>
<line x1="94" y1="-31.9" x2="115.8" y2="-31.9" stroke="#3c3c3c" stroke-width="0.75"/>
<line x1="94" y1="-29" x2="115.8" y2="-29" stroke="#3c3c3c" stroke-width="0.75"/>
<line x1="94" y1="-26.1" x2="115.8" y2="-26.1" stroke="#3c3c3c" stroke-width="0.75"/>
<line x1="94" y1="-23.2" x2="115.8" y2="-23.2" stroke="#3c3c3c" stroke-width="0.75"/>
<line x1="94" y1="-20.3" x2="115.8" y2="-20.3" stroke="#3c3c3c" stroke-width="0.75"/>
<line x1="94" y1="-17.4" x2="115.8" y2="-17.4" stroke="#3c3c3c" stroke-width="0.75"/>
<line x1="94" y1="-14.5" x2="115.8" y2="-14.5" stroke="#3c3c3c" stroke-width="0.75"/>
<line x1="94" y1="-11.6" x2="115.8" y2="-11.6" stroke="#3c3c3c" stroke-width="0.75"/>
<line x1="94" y1="-8.7" x2="115.8" y2="-8.7" stroke="#3c3c3c" stroke-width="0.75"/>
<line x1="94" y1="-5.8" x2="115.8" y2="-5.8" stroke="#3c3c3c" stroke-width="0.75"/>
<line x1="94" y1="-2.9" x2="115.8" y2="-2.9" stroke="#3c3c3c" stroke-width="0.75"/>
<line x1="94" y1="0" x2="115.8" y2="0" stroke="#3c3c3c" stroke-width="0.75"/>
<line x1="94" y1="2.9" x2="115.8" y2="2.9" stroke="#3c3c3c" stroke-width="0.75"/>
<line x1="94" y1="5.8" x2="115.8" y2="5.8" stroke="#3c3c3c" stroke-width="0.75"/>
<line x1="94" y1="8.7" x2="115.8" y2="8.7" stroke="#3c3c3c" stroke-width="0.75"/>
<line x1="94" y1="11.6" x2="115.8" y2="11.6" stroke="#3c3c3c" stroke-width="0.75"/>
<line x1="94" y1="14.5" x2="115.8" y2="14.5" stroke="#3c3c3c" stroke-width="0.75"/>
<line x1="94" y1="17.4" x2="115.8" y2="17.4" stroke="#3c3c3c" stroke-width="0.75"/>
<line x1="94" y1="20.3" x2="115.8" y2="20.3" stroke="#3c3c3c" stroke-width="0.75"/>
<line x1="94" y1="23.2" x2="115.8" y2="23.2" stroke="#3c3c3c" stroke-width="0.75"/>
<line x1="94" y1="26.1" x2="115.8" y2="26.1" stroke="#3c3c3c" stroke-width="0.75"/>
<line x1="94" y1="29" x2="115.8" y2="29" stroke="#3c3c3c" stroke-width="0.75"/>
<line x1="94" y1="31.9" x2="115.8" y2="31.9" stroke="#3c3c3c" stroke-width="0.75"/>
<line x1="94" y1="34.8" x2="115.8" y2="34.8" stroke="#3c3c3c" stroke-width="0.75"/>
<rect x="94" y="33.2" width="21.8" height="4.5" fill="#999" stroke="none" opacity="0.7"/>
<rect x="94" y="-36.7" width="21.8" height="4" fill="#bbb" stroke="none" opacity="0.6"/>
<path d="M130.26 -7.68 L135.75 -7.89 Q138.27 -8.22 139.91 -10.64 Q141.34 -12.39 146.16 -12.17 L167.21 -9.98 Q172.7 -9.54 172.48 -4.93 L169.63 23.03 Q169.3 26.64 165.9 27.52 L147.26 32.13 Q138.6 33.77 138.6 25.44 L138.6 12.61 Q138.6 7.89 134.65 7.79 L130.26 7.68" stroke="#2e2e2e" stroke-width="1.05" fill="none"/>
<line x1="150.33" y1="4.71" x2="147.81" y2="22.04" stroke="#2e2e2e" stroke-width="6.36" stroke-linecap="round"/>
<line x1="150.33" y1="4.71" x2="147.81" y2="22.04" stroke="#fff" stroke-width="4.06" stroke-linecap="round"/>
<line x1="162.06" y1="5.59" x2="160.53" y2="19.63" stroke="#2e2e2e" stroke-width="6.8" stroke-linecap="round"/>
<line x1="162.06" y1="5.59" x2="160.53" y2="19.63" stroke="#fff" stroke-width="4.5" stroke-linecap="round"/>
</g>
<line x1="469.4" y1="362" x2="469.4" y2="391.4" stroke="#555" stroke-width="0.6" fill="none"/>
<line x1="400.6" y1="388.5" x2="469.4" y2="388.5" stroke="#555" stroke-width="0.6" fill="none"/>
<path d="M469.4 388.5 L464.9 389.4 L464.9 387.6 Z" fill="#444"/>
<line x1="477.7" y1="388.5" x2="487.3" y2="388.5" stroke="#555" stroke-width="0.6" fill="none"/>
<path d="M477.7 388.5 L482.2 387.6 L482.2 389.4 Z" fill="#444"/>
<text x="403.2" y="386.3" font-size="11.3" fill="#2e2e2e" textLength="61" lengthAdjust="spacingAndGlyphs" >t=8mm Max.</text>
<g transform="translate(572.5 319.8) scale(0.92)">
<line x1="-43" y1="0" x2="43" y2="0" stroke="#6a6a6a" stroke-width="0.6" fill="none"/>
<line x1="0" y1="-51" x2="0" y2="52" stroke="#6a6a6a" stroke-width="0.6" fill="none"/>
<g transform="scale(1 1)">
<path d="M-32.3 -21.5 L-32.3 -43.4 L-30.799999999999997 -46.4 L-9 -46.4 L-7.5 -43.4" stroke="#2e2e2e" stroke-width="1.05" fill="none"/>
<path d="M32.3 -21.5 L32.3 -43.4 L30.799999999999997 -46.4 L9 -46.4 L7.5 -43.4" stroke="#2e2e2e" stroke-width="1.05" fill="none"/>
<g transform="scale(-1 1)">
<path d="M32.3 -38.4 L29.299999999999997 -38.4 L29.299999999999997 -33.9 L31.299999999999997 -33.9" stroke="#6a6a6a" stroke-width="0.6" fill="none"/>
<path d="M28.799999999999997 -35.9 L9 -35.9" stroke="#484848" stroke-width="0.8" fill="none"/>
<path d="M27.799999999999997 -33.9 L10 -33.9" stroke="#6a6a6a" stroke-width="0.6" fill="none"/>
<path d="M25.5 -35.9 A8 8 0 0 0 9.5 -35.9" stroke="#484848" stroke-width="0.8" fill="none"/>
<path d="M23 -35.9 A6 5 0 0 0 12 -35.9" stroke="#6a6a6a" stroke-width="0.6" fill="none"/>
</g>
<g transform="scale(1 1)">
<path d="M32.3 -38.4 L29.299999999999997 -38.4 L29.299999999999997 -33.9 L31.299999999999997 -33.9" stroke="#6a6a6a" stroke-width="0.6" fill="none"/>
<path d="M28.799999999999997 -35.9 L9 -35.9" stroke="#484848" stroke-width="0.8" fill="none"/>
<path d="M27.799999999999997 -33.9 L10 -33.9" stroke="#6a6a6a" stroke-width="0.6" fill="none"/>
<path d="M25.5 -35.9 A8 8 0 0 0 9.5 -35.9" stroke="#484848" stroke-width="0.8" fill="none"/>
<path d="M23 -35.9 A6 5 0 0 0 12 -35.9" stroke="#6a6a6a" stroke-width="0.6" fill="none"/>
</g>
<path d="M-7.5 -43.4 L-4.8 -47.4 L4.8 -47.4 L7.5 -43.4 L7.5 -35.9 M-7.5 -43.4 L-7.5 -35.9" stroke="#484848" stroke-width="0.8" fill="none"/>
<path d="M-3 -35.9 L-3 -41.4 A3 3 0 0 1 3 -41.4 L3 -35.9" stroke="#484848" stroke-width="0.8" fill="none"/>
<path d="M-4.5 -47.8 l1 -0.8 l1 0.8 l1 -0.8 l1 0.8 l1 -0.8 l1 0.8 l1 -0.8 l1 0.8 l1 -0.7" stroke="#222" stroke-width="1.3" fill="none"/>
</g>
<g transform="scale(1 -1)">
<path d="M-32.3 -21.5 L-32.3 -43.4 L-30.799999999999997 -46.4 L-9 -46.4 L-7.5 -43.4" stroke="#2e2e2e" stroke-width="1.05" fill="none"/>
<path d="M32.3 -21.5 L32.3 -43.4 L30.799999999999997 -46.4 L9 -46.4 L7.5 -43.4" stroke="#2e2e2e" stroke-width="1.05" fill="none"/>
<g transform="scale(-1 1)">
<path d="M32.3 -38.4 L29.299999999999997 -38.4 L29.299999999999997 -33.9 L31.299999999999997 -33.9" stroke="#6a6a6a" stroke-width="0.6" fill="none"/>
<path d="M28.799999999999997 -35.9 L9 -35.9" stroke="#484848" stroke-width="0.8" fill="none"/>
<path d="M27.799999999999997 -33.9 L10 -33.9" stroke="#6a6a6a" stroke-width="0.6" fill="none"/>
<path d="M25.5 -35.9 A8 8 0 0 0 9.5 -35.9" stroke="#484848" stroke-width="0.8" fill="none"/>
<path d="M23 -35.9 A6 5 0 0 0 12 -35.9" stroke="#6a6a6a" stroke-width="0.6" fill="none"/>
</g>
<g transform="scale(1 1)">
<path d="M32.3 -38.4 L29.299999999999997 -38.4 L29.299999999999997 -33.9 L31.299999999999997 -33.9" stroke="#6a6a6a" stroke-width="0.6" fill="none"/>
<path d="M28.799999999999997 -35.9 L9 -35.9" stroke="#484848" stroke-width="0.8" fill="none"/>
<path d="M27.799999999999997 -33.9 L10 -33.9" stroke="#6a6a6a" stroke-width="0.6" fill="none"/>
<path d="M25.5 -35.9 A8 8 0 0 0 9.5 -35.9" stroke="#484848" stroke-width="0.8" fill="none"/>
<path d="M23 -35.9 A6 5 0 0 0 12 -35.9" stroke="#6a6a6a" stroke-width="0.6" fill="none"/>
</g>
<path d="M-7.5 -43.4 L-4.8 -47.4 L4.8 -47.4 L7.5 -43.4 L7.5 -35.9 M-7.5 -43.4 L-7.5 -35.9" stroke="#484848" stroke-width="0.8" fill="none"/>
<path d="M-3 -35.9 L-3 -41.4 A3 3 0 0 1 3 -41.4 L3 -35.9" stroke="#484848" stroke-width="0.8" fill="none"/>
<path d="M-4.5 -47.8 l1 -0.8 l1 0.8 l1 -0.8 l1 0.8 l1 -0.8 l1 0.8 l1 -0.8 l1 0.8 l1 -0.7" stroke="#222" stroke-width="1.3" fill="none"/>
</g>
<circle cx="0" cy="0" r="38.4" stroke="#2e2e2e" stroke-width="1.05" fill="none"/>
<circle cx="0" cy="0" r="34.8" stroke="#484848" stroke-width="0.8" fill="none"/>
<circle cx="0" cy="0" r="27.2" stroke="#2e2e2e" stroke-width="1.05" fill="none"/>
<circle cx="0" cy="0" r="17.2" stroke="#2e2e2e" stroke-width="1.05" fill="none"/>
<rect x="-1.8" y="-12.3" width="3.6" height="43.5" rx="1.2" stroke="#484848" stroke-width="0.8" fill="none"/>
</g>
<line x1="537" y1="319" x2="537" y2="391" stroke="#555" stroke-width="0.6" fill="none"/>
<line x1="608" y1="319" x2="608" y2="391" stroke="#555" stroke-width="0.6" fill="none"/>
<line x1="537" y1="388.5" x2="608" y2="388.5" stroke="#555" stroke-width="0.6" fill="none"/>
<path d="M537 388.5 L541.5 387.6 L541.5 389.4 Z" fill="#444"/>
<path d="M608 388.5 L603.5 389.4 L603.5 387.6 Z" fill="#444"/>
<text x="563.5" y="386.3" font-size="11.2" fill="#2e2e2e" textLength="19.9" lengthAdjust="spacingAndGlyphs" >Ø35</text>
<rect x="522" y="406" width="3" height="2" fill="#ececec"/>
<rect x="527" y="406" width="5" height="2" fill="#ececec"/>
<rect x="534" y="406" width="4" height="2" fill="#ececec"/>
<rect x="541" y="406" width="2" height="2" fill="#ececec"/>
<rect x="546" y="406" width="5" height="2" fill="#ececec"/>
<rect x="553" y="406" width="4" height="2" fill="#ececec"/>
<rect x="560" y="406" width="3" height="2" fill="#ececec"/>
<rect x="566" y="406" width="5" height="2" fill="#ececec"/>
<rect x="574" y="406" width="4" height="2" fill="#ececec"/>
<rect x="580" y="406" width="2" height="2" fill="#ececec"/>
</svg>
</body></html>
